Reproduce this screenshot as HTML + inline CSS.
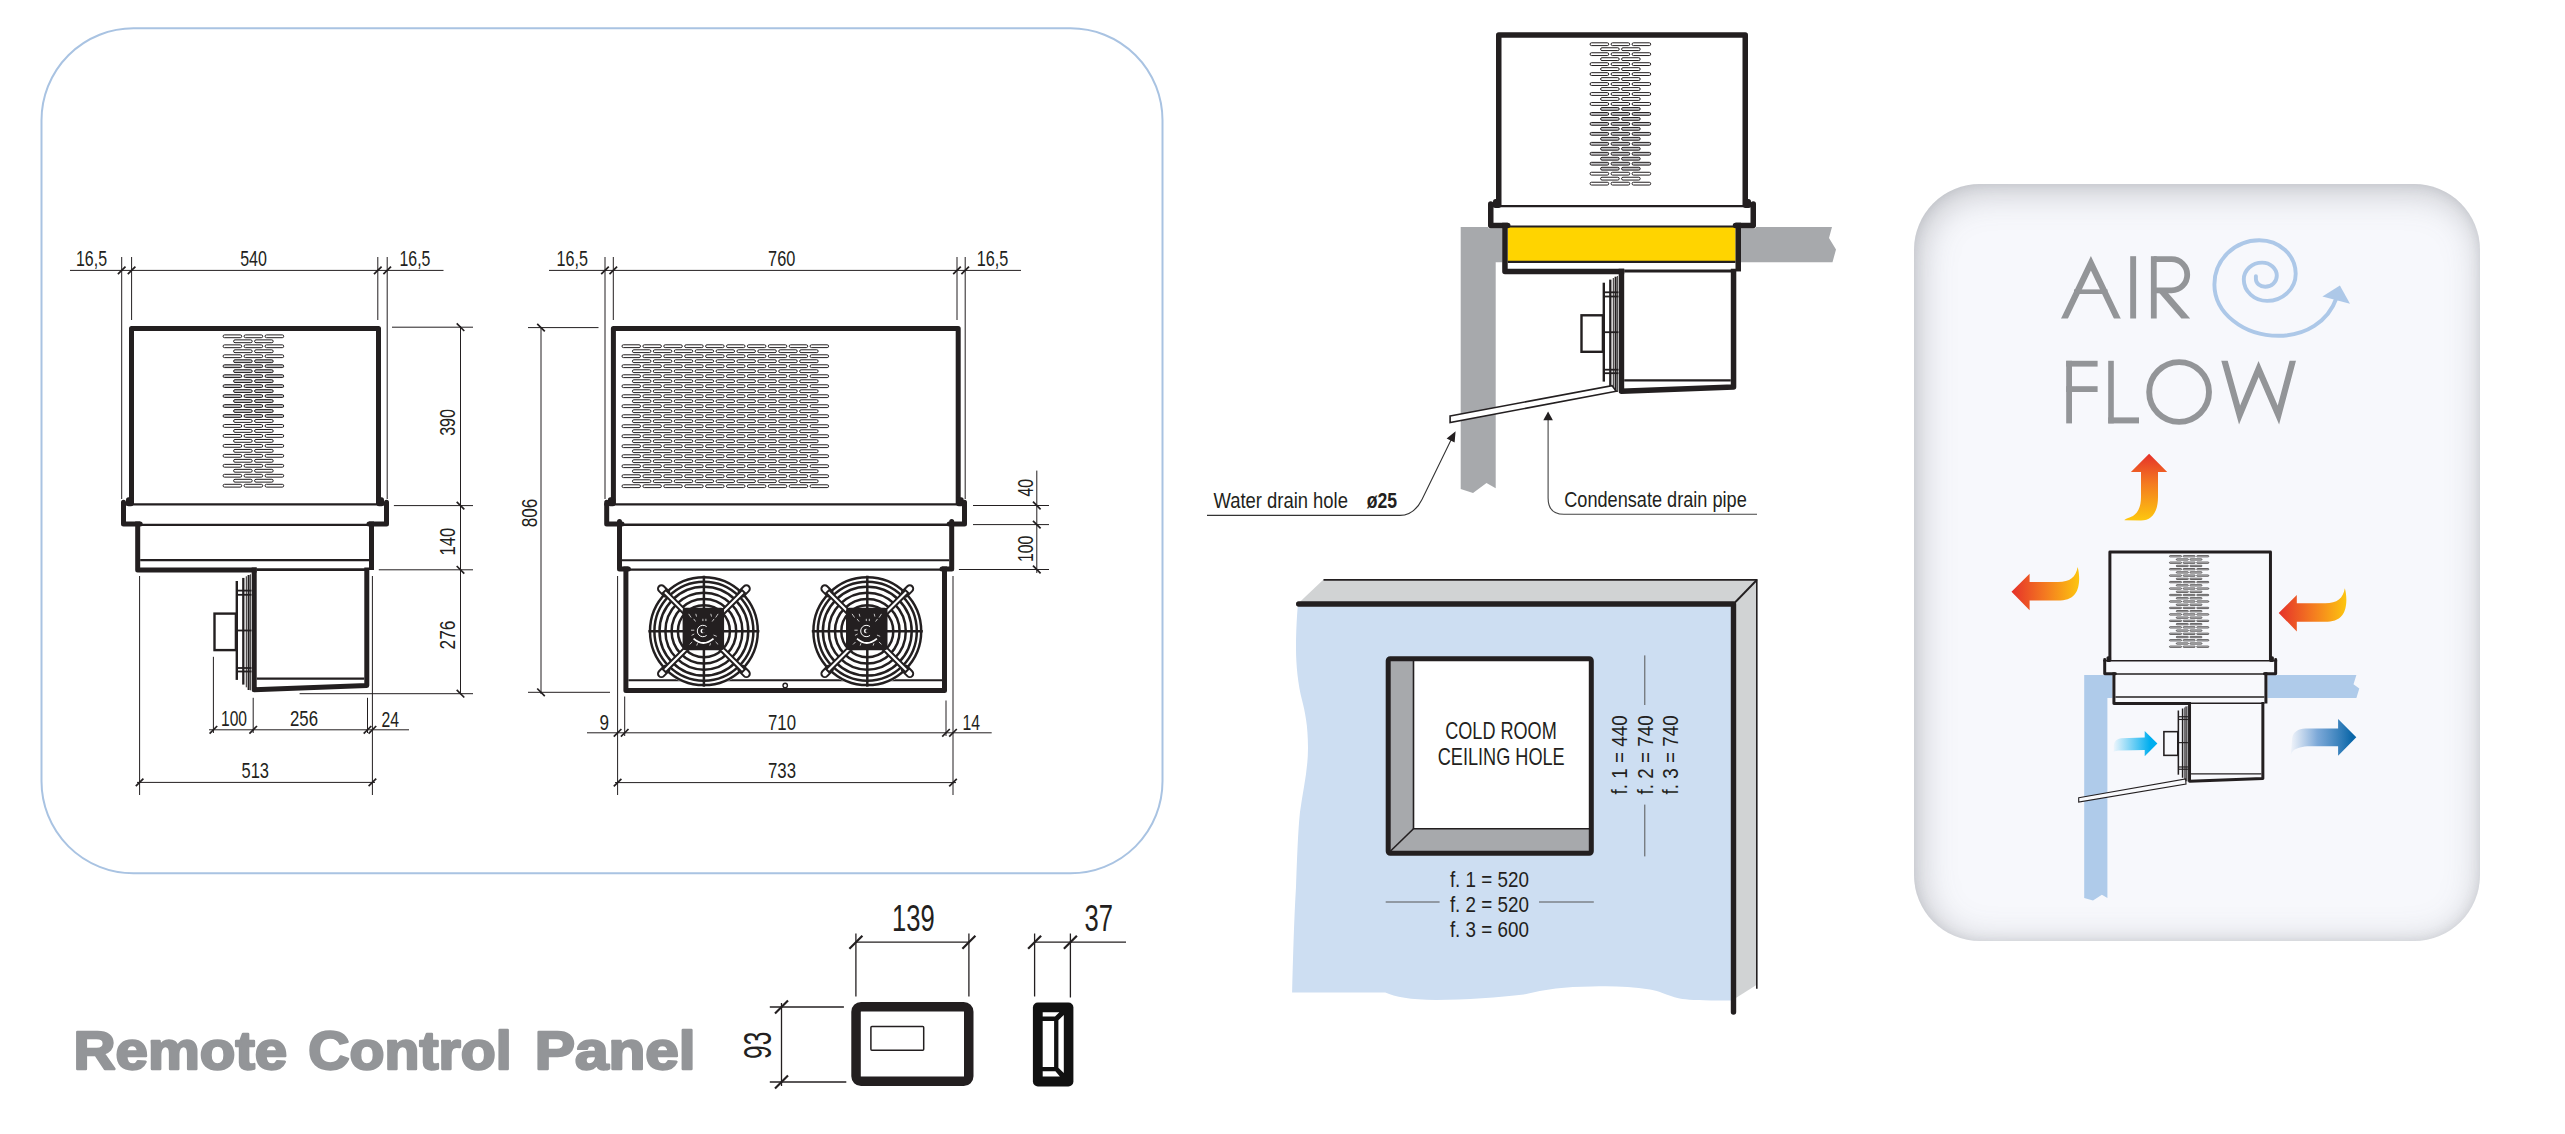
<!DOCTYPE html><html><head><meta charset="utf-8"><style>html,body{margin:0;padding:0;background:#fff;overflow:hidden;width:2565px;height:1134px}svg{display:block;position:absolute;left:0;top:0}#af{position:absolute;left:1914.2px;top:184px;width:565.6px;height:757px;border-radius:66px;background:#f7f8fc;box-shadow:inset 4px 6px 36px rgba(95,97,105,0.36),inset 0 0 12px rgba(95,97,105,0.14)}</style></head><body><div id="af"></div><svg width="2565" height="1134" viewBox="0 0 2565 1134">
<rect x="41.5" y="28.3" width="1121" height="845" rx="92" ry="92" fill="none" stroke="#a9c3e2" stroke-width="2"/>
<path d="M131.5,504.3 L131.5,328.5 L378.5,328.5 L378.5,504.3" stroke="#231f20" stroke-width="5" fill="none" stroke-linejoin="round"/>
<rect x="126" y="497.3" width="7.5" height="9" rx="2.5" fill="#231f20"/>
<rect x="376.5" y="497.3" width="7.5" height="9" rx="2.5" fill="#231f20"/>
<rect x="223.1" y="334.9" width="18.6" height="2.8" rx="1.4" fill="#fff" stroke="#231f20" stroke-width="1.0"/>
<rect x="244.1" y="334.9" width="18.6" height="2.8" rx="1.4" fill="#fff" stroke="#231f20" stroke-width="1.0"/>
<rect x="265.1" y="334.9" width="18.6" height="2.8" rx="1.4" fill="#fff" stroke="#231f20" stroke-width="1.0"/>
<rect x="233.6" y="339.88" width="18.6" height="2.8" rx="1.4" fill="#fff" stroke="#231f20" stroke-width="1.0"/>
<rect x="254.6" y="339.88" width="18.6" height="2.8" rx="1.4" fill="#fff" stroke="#231f20" stroke-width="1.0"/>
<rect x="223.1" y="344.86" width="18.6" height="2.8" rx="1.4" fill="#fff" stroke="#231f20" stroke-width="1.0"/>
<rect x="244.1" y="344.86" width="18.6" height="2.8" rx="1.4" fill="#fff" stroke="#231f20" stroke-width="1.0"/>
<rect x="265.1" y="344.86" width="18.6" height="2.8" rx="1.4" fill="#fff" stroke="#231f20" stroke-width="1.0"/>
<rect x="233.6" y="349.84" width="18.6" height="2.8" rx="1.4" fill="#fff" stroke="#231f20" stroke-width="1.0"/>
<rect x="254.6" y="349.84" width="18.6" height="2.8" rx="1.4" fill="#fff" stroke="#231f20" stroke-width="1.0"/>
<rect x="223.1" y="354.82" width="18.6" height="2.8" rx="1.4" fill="#fff" stroke="#231f20" stroke-width="1.0"/>
<rect x="244.1" y="354.82" width="18.6" height="2.8" rx="1.4" fill="#fff" stroke="#231f20" stroke-width="1.0"/>
<rect x="265.1" y="354.82" width="18.6" height="2.8" rx="1.4" fill="#fff" stroke="#231f20" stroke-width="1.0"/>
<rect x="233.6" y="359.8" width="18.6" height="2.8" rx="1.4" fill="#c2c2c4" stroke="#231f20" stroke-width="1.0"/>
<rect x="254.6" y="359.8" width="18.6" height="2.8" rx="1.4" fill="#c2c2c4" stroke="#231f20" stroke-width="1.0"/>
<rect x="223.1" y="364.78" width="18.6" height="2.8" rx="1.4" fill="#c2c2c4" stroke="#231f20" stroke-width="1.0"/>
<rect x="244.1" y="364.78" width="18.6" height="2.8" rx="1.4" fill="#c2c2c4" stroke="#231f20" stroke-width="1.0"/>
<rect x="265.1" y="364.78" width="18.6" height="2.8" rx="1.4" fill="#c2c2c4" stroke="#231f20" stroke-width="1.0"/>
<rect x="233.6" y="369.76" width="18.6" height="2.8" rx="1.4" fill="#c2c2c4" stroke="#231f20" stroke-width="1.0"/>
<rect x="254.6" y="369.76" width="18.6" height="2.8" rx="1.4" fill="#c2c2c4" stroke="#231f20" stroke-width="1.0"/>
<rect x="223.1" y="374.74" width="18.6" height="2.8" rx="1.4" fill="#c2c2c4" stroke="#231f20" stroke-width="1.0"/>
<rect x="244.1" y="374.74" width="18.6" height="2.8" rx="1.4" fill="#c2c2c4" stroke="#231f20" stroke-width="1.0"/>
<rect x="265.1" y="374.74" width="18.6" height="2.8" rx="1.4" fill="#c2c2c4" stroke="#231f20" stroke-width="1.0"/>
<rect x="233.6" y="379.72" width="18.6" height="2.8" rx="1.4" fill="#c2c2c4" stroke="#231f20" stroke-width="1.0"/>
<rect x="254.6" y="379.72" width="18.6" height="2.8" rx="1.4" fill="#c2c2c4" stroke="#231f20" stroke-width="1.0"/>
<rect x="223.1" y="384.7" width="18.6" height="2.8" rx="1.4" fill="#c2c2c4" stroke="#231f20" stroke-width="1.0"/>
<rect x="244.1" y="384.7" width="18.6" height="2.8" rx="1.4" fill="#c2c2c4" stroke="#231f20" stroke-width="1.0"/>
<rect x="265.1" y="384.7" width="18.6" height="2.8" rx="1.4" fill="#c2c2c4" stroke="#231f20" stroke-width="1.0"/>
<rect x="233.6" y="389.68" width="18.6" height="2.8" rx="1.4" fill="#c2c2c4" stroke="#231f20" stroke-width="1.0"/>
<rect x="254.6" y="389.68" width="18.6" height="2.8" rx="1.4" fill="#c2c2c4" stroke="#231f20" stroke-width="1.0"/>
<rect x="223.1" y="394.66" width="18.6" height="2.8" rx="1.4" fill="#c2c2c4" stroke="#231f20" stroke-width="1.0"/>
<rect x="244.1" y="394.66" width="18.6" height="2.8" rx="1.4" fill="#c2c2c4" stroke="#231f20" stroke-width="1.0"/>
<rect x="265.1" y="394.66" width="18.6" height="2.8" rx="1.4" fill="#c2c2c4" stroke="#231f20" stroke-width="1.0"/>
<rect x="233.6" y="399.64" width="18.6" height="2.8" rx="1.4" fill="#c2c2c4" stroke="#231f20" stroke-width="1.0"/>
<rect x="254.6" y="399.64" width="18.6" height="2.8" rx="1.4" fill="#c2c2c4" stroke="#231f20" stroke-width="1.0"/>
<rect x="223.1" y="404.62" width="18.6" height="2.8" rx="1.4" fill="#c2c2c4" stroke="#231f20" stroke-width="1.0"/>
<rect x="244.1" y="404.62" width="18.6" height="2.8" rx="1.4" fill="#c2c2c4" stroke="#231f20" stroke-width="1.0"/>
<rect x="265.1" y="404.62" width="18.6" height="2.8" rx="1.4" fill="#c2c2c4" stroke="#231f20" stroke-width="1.0"/>
<rect x="233.6" y="409.6" width="18.6" height="2.8" rx="1.4" fill="#c2c2c4" stroke="#231f20" stroke-width="1.0"/>
<rect x="254.6" y="409.6" width="18.6" height="2.8" rx="1.4" fill="#c2c2c4" stroke="#231f20" stroke-width="1.0"/>
<rect x="223.1" y="414.58" width="18.6" height="2.8" rx="1.4" fill="#c2c2c4" stroke="#231f20" stroke-width="1.0"/>
<rect x="244.1" y="414.58" width="18.6" height="2.8" rx="1.4" fill="#c2c2c4" stroke="#231f20" stroke-width="1.0"/>
<rect x="265.1" y="414.58" width="18.6" height="2.8" rx="1.4" fill="#c2c2c4" stroke="#231f20" stroke-width="1.0"/>
<rect x="233.6" y="419.56" width="18.6" height="2.8" rx="1.4" fill="#fff" stroke="#231f20" stroke-width="1.0"/>
<rect x="254.6" y="419.56" width="18.6" height="2.8" rx="1.4" fill="#fff" stroke="#231f20" stroke-width="1.0"/>
<rect x="223.1" y="424.54" width="18.6" height="2.8" rx="1.4" fill="#fff" stroke="#231f20" stroke-width="1.0"/>
<rect x="244.1" y="424.54" width="18.6" height="2.8" rx="1.4" fill="#fff" stroke="#231f20" stroke-width="1.0"/>
<rect x="265.1" y="424.54" width="18.6" height="2.8" rx="1.4" fill="#fff" stroke="#231f20" stroke-width="1.0"/>
<rect x="233.6" y="429.52" width="18.6" height="2.8" rx="1.4" fill="#fff" stroke="#231f20" stroke-width="1.0"/>
<rect x="254.6" y="429.52" width="18.6" height="2.8" rx="1.4" fill="#fff" stroke="#231f20" stroke-width="1.0"/>
<rect x="223.1" y="434.5" width="18.6" height="2.8" rx="1.4" fill="#fff" stroke="#231f20" stroke-width="1.0"/>
<rect x="244.1" y="434.5" width="18.6" height="2.8" rx="1.4" fill="#fff" stroke="#231f20" stroke-width="1.0"/>
<rect x="265.1" y="434.5" width="18.6" height="2.8" rx="1.4" fill="#fff" stroke="#231f20" stroke-width="1.0"/>
<rect x="233.6" y="439.48" width="18.6" height="2.8" rx="1.4" fill="#fff" stroke="#231f20" stroke-width="1.0"/>
<rect x="254.6" y="439.48" width="18.6" height="2.8" rx="1.4" fill="#fff" stroke="#231f20" stroke-width="1.0"/>
<rect x="223.1" y="444.46" width="18.6" height="2.8" rx="1.4" fill="#fff" stroke="#231f20" stroke-width="1.0"/>
<rect x="244.1" y="444.46" width="18.6" height="2.8" rx="1.4" fill="#fff" stroke="#231f20" stroke-width="1.0"/>
<rect x="265.1" y="444.46" width="18.6" height="2.8" rx="1.4" fill="#fff" stroke="#231f20" stroke-width="1.0"/>
<rect x="233.6" y="449.44" width="18.6" height="2.8" rx="1.4" fill="#fff" stroke="#231f20" stroke-width="1.0"/>
<rect x="254.6" y="449.44" width="18.6" height="2.8" rx="1.4" fill="#fff" stroke="#231f20" stroke-width="1.0"/>
<rect x="223.1" y="454.42" width="18.6" height="2.8" rx="1.4" fill="#fff" stroke="#231f20" stroke-width="1.0"/>
<rect x="244.1" y="454.42" width="18.6" height="2.8" rx="1.4" fill="#fff" stroke="#231f20" stroke-width="1.0"/>
<rect x="265.1" y="454.42" width="18.6" height="2.8" rx="1.4" fill="#fff" stroke="#231f20" stroke-width="1.0"/>
<rect x="233.6" y="459.4" width="18.6" height="2.8" rx="1.4" fill="#fff" stroke="#231f20" stroke-width="1.0"/>
<rect x="254.6" y="459.4" width="18.6" height="2.8" rx="1.4" fill="#fff" stroke="#231f20" stroke-width="1.0"/>
<rect x="223.1" y="464.38" width="18.6" height="2.8" rx="1.4" fill="#fff" stroke="#231f20" stroke-width="1.0"/>
<rect x="244.1" y="464.38" width="18.6" height="2.8" rx="1.4" fill="#fff" stroke="#231f20" stroke-width="1.0"/>
<rect x="265.1" y="464.38" width="18.6" height="2.8" rx="1.4" fill="#fff" stroke="#231f20" stroke-width="1.0"/>
<rect x="233.6" y="469.36" width="18.6" height="2.8" rx="1.4" fill="#fff" stroke="#231f20" stroke-width="1.0"/>
<rect x="254.6" y="469.36" width="18.6" height="2.8" rx="1.4" fill="#fff" stroke="#231f20" stroke-width="1.0"/>
<rect x="223.1" y="474.34" width="18.6" height="2.8" rx="1.4" fill="#fff" stroke="#231f20" stroke-width="1.0"/>
<rect x="244.1" y="474.34" width="18.6" height="2.8" rx="1.4" fill="#fff" stroke="#231f20" stroke-width="1.0"/>
<rect x="265.1" y="474.34" width="18.6" height="2.8" rx="1.4" fill="#fff" stroke="#231f20" stroke-width="1.0"/>
<rect x="233.6" y="479.32" width="18.6" height="2.8" rx="1.4" fill="#fff" stroke="#231f20" stroke-width="1.0"/>
<rect x="254.6" y="479.32" width="18.6" height="2.8" rx="1.4" fill="#fff" stroke="#231f20" stroke-width="1.0"/>
<rect x="223.1" y="484.3" width="18.6" height="2.8" rx="1.4" fill="#fff" stroke="#231f20" stroke-width="1.0"/>
<rect x="244.1" y="484.3" width="18.6" height="2.8" rx="1.4" fill="#fff" stroke="#231f20" stroke-width="1.0"/>
<rect x="265.1" y="484.3" width="18.6" height="2.8" rx="1.4" fill="#fff" stroke="#231f20" stroke-width="1.0"/>
<line x1="121" y1="504.4" x2="389" y2="504.4" stroke="#231f20" stroke-width="2.2" />
<path d="M123.5,502.3 L123.5,524 L140.2,524" stroke="#231f20" stroke-width="5" fill="none" stroke-linejoin="round" stroke-linecap="round"/>
<path d="M386.5,502.3 L386.5,524 L369,524" stroke="#231f20" stroke-width="5" fill="none" stroke-linejoin="round" stroke-linecap="round"/>
<line x1="135.2" y1="524.8" x2="374" y2="524.8" stroke="#231f20" stroke-width="2.2" />
<path d="M137.7,521.5 L137.7,570 L256.7,570" stroke="#231f20" stroke-width="5" fill="none" stroke-linejoin="round"/>
<line x1="256.7" y1="569.6" x2="369" y2="569.6" stroke="#231f20" stroke-width="2.75" />
<path d="M371.5,521.5 L371.5,570" stroke="#231f20" stroke-width="5" fill="none" stroke-linejoin="round"/>
<line x1="140.2" y1="560.2" x2="369" y2="560.2" stroke="#231f20" stroke-width="2.2" />
<path d="M254.2,567.5 L254.2,689.8 L366.8,685.5 L366.8,567.5" stroke="#231f20" stroke-width="5" fill="none" stroke-linejoin="round"/>
<line x1="256.7" y1="678.6" x2="364.3" y2="678.6" stroke="#231f20" stroke-width="2.2" />
<line x1="236.8" y1="581" x2="236.8" y2="679.9" stroke="#231f20" stroke-width="2.4" />
<line x1="243.3" y1="577.9" x2="243.3" y2="684.6" stroke="#231f20" stroke-width="2.3" />
<line x1="246.3" y1="576.3" x2="246.3" y2="687.3" stroke="#231f20" stroke-width="1.0" />
<line x1="248.6" y1="575" x2="248.6" y2="690" stroke="#231f20" stroke-width="2.0" />
<line x1="250.4" y1="574.3" x2="250.4" y2="690.3" stroke="#231f20" stroke-width="0.9" />
<line x1="236.8" y1="590.6" x2="251.5" y2="590.6" stroke="#231f20" stroke-width="1.8" />
<line x1="236.8" y1="594.8" x2="251.5" y2="594.8" stroke="#231f20" stroke-width="1.8" />
<line x1="236.8" y1="630.5" x2="251.5" y2="630.5" stroke="#231f20" stroke-width="1.8" />
<line x1="236.8" y1="668" x2="251.5" y2="668" stroke="#231f20" stroke-width="1.8" />
<line x1="236.8" y1="671.5" x2="251.5" y2="671.5" stroke="#231f20" stroke-width="1.8" />
<rect x="214.5" y="613.6" width="21.4" height="36.5" fill="#fff" stroke="#231f20" stroke-width="2.4"/>
<line x1="70" y1="270.4" x2="443.5" y2="270.4" stroke="#231f20" stroke-width="1" />
<line x1="117.9" y1="274.2" x2="125.5" y2="266.6" stroke="#231f20" stroke-width="1.7" />
<line x1="127.8" y1="274.2" x2="135.4" y2="266.6" stroke="#231f20" stroke-width="1.7" />
<line x1="374" y1="274.2" x2="381.6" y2="266.6" stroke="#231f20" stroke-width="1.7" />
<line x1="383.4" y1="274.2" x2="391" y2="266.6" stroke="#231f20" stroke-width="1.7" />
<line x1="121.7" y1="257" x2="121.7" y2="499" stroke="#231f20" stroke-width="1" />
<line x1="387.2" y1="257" x2="387.2" y2="499" stroke="#231f20" stroke-width="1" />
<line x1="131.6" y1="257" x2="131.6" y2="320" stroke="#231f20" stroke-width="1" />
<line x1="377.8" y1="257" x2="377.8" y2="320" stroke="#231f20" stroke-width="1" />
<text x="91.5" y="265.6" font-family='"Liberation Sans", sans-serif' font-size="22.5" font-weight="normal" fill="#231f20" text-anchor="middle" textLength="31" lengthAdjust="spacingAndGlyphs" >16,5</text>
<text x="253.55" y="265.6" font-family='"Liberation Sans", sans-serif' font-size="22.5" font-weight="normal" fill="#231f20" text-anchor="middle" textLength="26.7" lengthAdjust="spacingAndGlyphs" >540</text>
<text x="414.95" y="265.6" font-family='"Liberation Sans", sans-serif' font-size="22.5" font-weight="normal" fill="#231f20" text-anchor="middle" textLength="30.9" lengthAdjust="spacingAndGlyphs" >16,5</text>
<line x1="460.5" y1="326" x2="460.5" y2="694" stroke="#231f20" stroke-width="1" />
<line x1="456.7" y1="323.4" x2="464.3" y2="331" stroke="#231f20" stroke-width="1.7" />
<line x1="456.7" y1="501.8" x2="464.3" y2="509.4" stroke="#231f20" stroke-width="1.7" />
<line x1="456.7" y1="566" x2="464.3" y2="573.6" stroke="#231f20" stroke-width="1.7" />
<line x1="456.7" y1="689.9" x2="464.3" y2="697.5" stroke="#231f20" stroke-width="1.7" />
<line x1="392" y1="327.2" x2="473" y2="327.2" stroke="#231f20" stroke-width="1" />
<line x1="393.9" y1="505.6" x2="473" y2="505.6" stroke="#231f20" stroke-width="1" />
<line x1="378.8" y1="569.8" x2="473" y2="569.8" stroke="#231f20" stroke-width="1" />
<line x1="299.6" y1="693.7" x2="473" y2="693.7" stroke="#231f20" stroke-width="1" />
<text transform="translate(454.84,422.4) rotate(-90)" x="0" y="0" font-family='"Liberation Sans", sans-serif' font-size="22.5" font-weight="normal" fill="#231f20" text-anchor="middle" textLength="26.9" lengthAdjust="spacingAndGlyphs" >390</text>
<text transform="translate(454.84,541.7) rotate(-90)" x="0" y="0" font-family='"Liberation Sans", sans-serif' font-size="22.5" font-weight="normal" fill="#231f20" text-anchor="middle" textLength="27.8" lengthAdjust="spacingAndGlyphs" >140</text>
<text transform="translate(454.84,635) rotate(-90)" x="0" y="0" font-family='"Liberation Sans", sans-serif' font-size="22.5" font-weight="normal" fill="#231f20" text-anchor="middle" textLength="29" lengthAdjust="spacingAndGlyphs" >276</text>
<line x1="209" y1="729.8" x2="409" y2="729.8" stroke="#231f20" stroke-width="1" />
<line x1="209.6" y1="733.6" x2="217.2" y2="726" stroke="#231f20" stroke-width="1.7" />
<line x1="249.4" y1="733.6" x2="257" y2="726" stroke="#231f20" stroke-width="1.7" />
<line x1="363.7" y1="733.6" x2="371.3" y2="726" stroke="#231f20" stroke-width="1.7" />
<line x1="368.6" y1="733.6" x2="376.2" y2="726" stroke="#231f20" stroke-width="1.7" />
<line x1="213.4" y1="656.8" x2="213.4" y2="733" stroke="#231f20" stroke-width="1" />
<line x1="253.2" y1="697.8" x2="253.2" y2="733" stroke="#231f20" stroke-width="1" />
<line x1="367.5" y1="697.8" x2="367.5" y2="733" stroke="#231f20" stroke-width="1" />
<line x1="372.4" y1="576" x2="372.4" y2="795" stroke="#231f20" stroke-width="1" />
<line x1="139.6" y1="576" x2="139.6" y2="795" stroke="#231f20" stroke-width="1" />
<line x1="137" y1="782.4" x2="375" y2="782.4" stroke="#231f20" stroke-width="1" />
<line x1="135.8" y1="786.2" x2="143.4" y2="778.6" stroke="#231f20" stroke-width="1.7" />
<line x1="368.6" y1="786.2" x2="376.2" y2="778.6" stroke="#231f20" stroke-width="1.7" />
<text x="234" y="725.6" font-family='"Liberation Sans", sans-serif' font-size="22.5" font-weight="normal" fill="#231f20" text-anchor="middle" textLength="26" lengthAdjust="spacingAndGlyphs" >100</text>
<text x="304" y="725.6" font-family='"Liberation Sans", sans-serif' font-size="22.5" font-weight="normal" fill="#231f20" text-anchor="middle" textLength="28" lengthAdjust="spacingAndGlyphs" >256</text>
<text x="390.25" y="727" font-family='"Liberation Sans", sans-serif' font-size="22.5" font-weight="normal" fill="#231f20" text-anchor="middle" textLength="17.5" lengthAdjust="spacingAndGlyphs" >24</text>
<text x="255.25" y="777.6" font-family='"Liberation Sans", sans-serif' font-size="22.5" font-weight="normal" fill="#231f20" text-anchor="middle" textLength="27.5" lengthAdjust="spacingAndGlyphs" >513</text>
<path d="M613.4,504.3 L613.4,328.5 L958.2,328.5 L958.2,504.3" stroke="#231f20" stroke-width="5" fill="none" stroke-linejoin="round"/>
<rect x="607.9" y="497.3" width="7.5" height="9" rx="2.5" fill="#231f20"/>
<rect x="956.2" y="497.3" width="7.5" height="9" rx="2.5" fill="#231f20"/>
<rect x="622" y="344.8" width="18.5" height="2.8" rx="1.4" fill="#fff" stroke="#231f20" stroke-width="1.0"/>
<rect x="642.9" y="344.8" width="18.5" height="2.8" rx="1.4" fill="#fff" stroke="#231f20" stroke-width="1.0"/>
<rect x="663.8" y="344.8" width="18.5" height="2.8" rx="1.4" fill="#fff" stroke="#231f20" stroke-width="1.0"/>
<rect x="684.7" y="344.8" width="18.5" height="2.8" rx="1.4" fill="#fff" stroke="#231f20" stroke-width="1.0"/>
<rect x="705.6" y="344.8" width="18.5" height="2.8" rx="1.4" fill="#fff" stroke="#231f20" stroke-width="1.0"/>
<rect x="726.5" y="344.8" width="18.5" height="2.8" rx="1.4" fill="#fff" stroke="#231f20" stroke-width="1.0"/>
<rect x="747.4" y="344.8" width="18.5" height="2.8" rx="1.4" fill="#fff" stroke="#231f20" stroke-width="1.0"/>
<rect x="768.3" y="344.8" width="18.5" height="2.8" rx="1.4" fill="#fff" stroke="#231f20" stroke-width="1.0"/>
<rect x="789.2" y="344.8" width="18.5" height="2.8" rx="1.4" fill="#fff" stroke="#231f20" stroke-width="1.0"/>
<rect x="810.1" y="344.8" width="18.5" height="2.8" rx="1.4" fill="#fff" stroke="#231f20" stroke-width="1.0"/>
<rect x="632.45" y="349.8" width="18.5" height="2.8" rx="1.4" fill="#fff" stroke="#231f20" stroke-width="1.0"/>
<rect x="653.35" y="349.8" width="18.5" height="2.8" rx="1.4" fill="#fff" stroke="#231f20" stroke-width="1.0"/>
<rect x="674.25" y="349.8" width="18.5" height="2.8" rx="1.4" fill="#fff" stroke="#231f20" stroke-width="1.0"/>
<rect x="695.15" y="349.8" width="18.5" height="2.8" rx="1.4" fill="#fff" stroke="#231f20" stroke-width="1.0"/>
<rect x="716.05" y="349.8" width="18.5" height="2.8" rx="1.4" fill="#fff" stroke="#231f20" stroke-width="1.0"/>
<rect x="736.95" y="349.8" width="18.5" height="2.8" rx="1.4" fill="#fff" stroke="#231f20" stroke-width="1.0"/>
<rect x="757.85" y="349.8" width="18.5" height="2.8" rx="1.4" fill="#fff" stroke="#231f20" stroke-width="1.0"/>
<rect x="778.75" y="349.8" width="18.5" height="2.8" rx="1.4" fill="#fff" stroke="#231f20" stroke-width="1.0"/>
<rect x="799.65" y="349.8" width="18.5" height="2.8" rx="1.4" fill="#fff" stroke="#231f20" stroke-width="1.0"/>
<rect x="622" y="354.8" width="18.5" height="2.8" rx="1.4" fill="#fff" stroke="#231f20" stroke-width="1.0"/>
<rect x="642.9" y="354.8" width="18.5" height="2.8" rx="1.4" fill="#fff" stroke="#231f20" stroke-width="1.0"/>
<rect x="663.8" y="354.8" width="18.5" height="2.8" rx="1.4" fill="#fff" stroke="#231f20" stroke-width="1.0"/>
<rect x="684.7" y="354.8" width="18.5" height="2.8" rx="1.4" fill="#fff" stroke="#231f20" stroke-width="1.0"/>
<rect x="705.6" y="354.8" width="18.5" height="2.8" rx="1.4" fill="#fff" stroke="#231f20" stroke-width="1.0"/>
<rect x="726.5" y="354.8" width="18.5" height="2.8" rx="1.4" fill="#fff" stroke="#231f20" stroke-width="1.0"/>
<rect x="747.4" y="354.8" width="18.5" height="2.8" rx="1.4" fill="#fff" stroke="#231f20" stroke-width="1.0"/>
<rect x="768.3" y="354.8" width="18.5" height="2.8" rx="1.4" fill="#fff" stroke="#231f20" stroke-width="1.0"/>
<rect x="789.2" y="354.8" width="18.5" height="2.8" rx="1.4" fill="#fff" stroke="#231f20" stroke-width="1.0"/>
<rect x="810.1" y="354.8" width="18.5" height="2.8" rx="1.4" fill="#fff" stroke="#231f20" stroke-width="1.0"/>
<rect x="632.45" y="359.8" width="18.5" height="2.8" rx="1.4" fill="#fff" stroke="#231f20" stroke-width="1.0"/>
<rect x="653.35" y="359.8" width="18.5" height="2.8" rx="1.4" fill="#fff" stroke="#231f20" stroke-width="1.0"/>
<rect x="674.25" y="359.8" width="18.5" height="2.8" rx="1.4" fill="#fff" stroke="#231f20" stroke-width="1.0"/>
<rect x="695.15" y="359.8" width="18.5" height="2.8" rx="1.4" fill="#fff" stroke="#231f20" stroke-width="1.0"/>
<rect x="716.05" y="359.8" width="18.5" height="2.8" rx="1.4" fill="#fff" stroke="#231f20" stroke-width="1.0"/>
<rect x="736.95" y="359.8" width="18.5" height="2.8" rx="1.4" fill="#fff" stroke="#231f20" stroke-width="1.0"/>
<rect x="757.85" y="359.8" width="18.5" height="2.8" rx="1.4" fill="#fff" stroke="#231f20" stroke-width="1.0"/>
<rect x="778.75" y="359.8" width="18.5" height="2.8" rx="1.4" fill="#fff" stroke="#231f20" stroke-width="1.0"/>
<rect x="799.65" y="359.8" width="18.5" height="2.8" rx="1.4" fill="#fff" stroke="#231f20" stroke-width="1.0"/>
<rect x="622" y="364.8" width="18.5" height="2.8" rx="1.4" fill="#fff" stroke="#231f20" stroke-width="1.0"/>
<rect x="642.9" y="364.8" width="18.5" height="2.8" rx="1.4" fill="#fff" stroke="#231f20" stroke-width="1.0"/>
<rect x="663.8" y="364.8" width="18.5" height="2.8" rx="1.4" fill="#fff" stroke="#231f20" stroke-width="1.0"/>
<rect x="684.7" y="364.8" width="18.5" height="2.8" rx="1.4" fill="#fff" stroke="#231f20" stroke-width="1.0"/>
<rect x="705.6" y="364.8" width="18.5" height="2.8" rx="1.4" fill="#fff" stroke="#231f20" stroke-width="1.0"/>
<rect x="726.5" y="364.8" width="18.5" height="2.8" rx="1.4" fill="#fff" stroke="#231f20" stroke-width="1.0"/>
<rect x="747.4" y="364.8" width="18.5" height="2.8" rx="1.4" fill="#fff" stroke="#231f20" stroke-width="1.0"/>
<rect x="768.3" y="364.8" width="18.5" height="2.8" rx="1.4" fill="#fff" stroke="#231f20" stroke-width="1.0"/>
<rect x="789.2" y="364.8" width="18.5" height="2.8" rx="1.4" fill="#fff" stroke="#231f20" stroke-width="1.0"/>
<rect x="810.1" y="364.8" width="18.5" height="2.8" rx="1.4" fill="#fff" stroke="#231f20" stroke-width="1.0"/>
<rect x="632.45" y="369.8" width="18.5" height="2.8" rx="1.4" fill="#fff" stroke="#231f20" stroke-width="1.0"/>
<rect x="653.35" y="369.8" width="18.5" height="2.8" rx="1.4" fill="#fff" stroke="#231f20" stroke-width="1.0"/>
<rect x="674.25" y="369.8" width="18.5" height="2.8" rx="1.4" fill="#fff" stroke="#231f20" stroke-width="1.0"/>
<rect x="695.15" y="369.8" width="18.5" height="2.8" rx="1.4" fill="#fff" stroke="#231f20" stroke-width="1.0"/>
<rect x="716.05" y="369.8" width="18.5" height="2.8" rx="1.4" fill="#fff" stroke="#231f20" stroke-width="1.0"/>
<rect x="736.95" y="369.8" width="18.5" height="2.8" rx="1.4" fill="#fff" stroke="#231f20" stroke-width="1.0"/>
<rect x="757.85" y="369.8" width="18.5" height="2.8" rx="1.4" fill="#fff" stroke="#231f20" stroke-width="1.0"/>
<rect x="778.75" y="369.8" width="18.5" height="2.8" rx="1.4" fill="#fff" stroke="#231f20" stroke-width="1.0"/>
<rect x="799.65" y="369.8" width="18.5" height="2.8" rx="1.4" fill="#fff" stroke="#231f20" stroke-width="1.0"/>
<rect x="622" y="374.8" width="18.5" height="2.8" rx="1.4" fill="#fff" stroke="#231f20" stroke-width="1.0"/>
<rect x="642.9" y="374.8" width="18.5" height="2.8" rx="1.4" fill="#fff" stroke="#231f20" stroke-width="1.0"/>
<rect x="663.8" y="374.8" width="18.5" height="2.8" rx="1.4" fill="#fff" stroke="#231f20" stroke-width="1.0"/>
<rect x="684.7" y="374.8" width="18.5" height="2.8" rx="1.4" fill="#fff" stroke="#231f20" stroke-width="1.0"/>
<rect x="705.6" y="374.8" width="18.5" height="2.8" rx="1.4" fill="#fff" stroke="#231f20" stroke-width="1.0"/>
<rect x="726.5" y="374.8" width="18.5" height="2.8" rx="1.4" fill="#fff" stroke="#231f20" stroke-width="1.0"/>
<rect x="747.4" y="374.8" width="18.5" height="2.8" rx="1.4" fill="#fff" stroke="#231f20" stroke-width="1.0"/>
<rect x="768.3" y="374.8" width="18.5" height="2.8" rx="1.4" fill="#fff" stroke="#231f20" stroke-width="1.0"/>
<rect x="789.2" y="374.8" width="18.5" height="2.8" rx="1.4" fill="#fff" stroke="#231f20" stroke-width="1.0"/>
<rect x="810.1" y="374.8" width="18.5" height="2.8" rx="1.4" fill="#fff" stroke="#231f20" stroke-width="1.0"/>
<rect x="632.45" y="379.8" width="18.5" height="2.8" rx="1.4" fill="#fff" stroke="#231f20" stroke-width="1.0"/>
<rect x="653.35" y="379.8" width="18.5" height="2.8" rx="1.4" fill="#fff" stroke="#231f20" stroke-width="1.0"/>
<rect x="674.25" y="379.8" width="18.5" height="2.8" rx="1.4" fill="#fff" stroke="#231f20" stroke-width="1.0"/>
<rect x="695.15" y="379.8" width="18.5" height="2.8" rx="1.4" fill="#fff" stroke="#231f20" stroke-width="1.0"/>
<rect x="716.05" y="379.8" width="18.5" height="2.8" rx="1.4" fill="#fff" stroke="#231f20" stroke-width="1.0"/>
<rect x="736.95" y="379.8" width="18.5" height="2.8" rx="1.4" fill="#fff" stroke="#231f20" stroke-width="1.0"/>
<rect x="757.85" y="379.8" width="18.5" height="2.8" rx="1.4" fill="#fff" stroke="#231f20" stroke-width="1.0"/>
<rect x="778.75" y="379.8" width="18.5" height="2.8" rx="1.4" fill="#fff" stroke="#231f20" stroke-width="1.0"/>
<rect x="799.65" y="379.8" width="18.5" height="2.8" rx="1.4" fill="#fff" stroke="#231f20" stroke-width="1.0"/>
<rect x="622" y="384.8" width="18.5" height="2.8" rx="1.4" fill="#fff" stroke="#231f20" stroke-width="1.0"/>
<rect x="642.9" y="384.8" width="18.5" height="2.8" rx="1.4" fill="#fff" stroke="#231f20" stroke-width="1.0"/>
<rect x="663.8" y="384.8" width="18.5" height="2.8" rx="1.4" fill="#fff" stroke="#231f20" stroke-width="1.0"/>
<rect x="684.7" y="384.8" width="18.5" height="2.8" rx="1.4" fill="#fff" stroke="#231f20" stroke-width="1.0"/>
<rect x="705.6" y="384.8" width="18.5" height="2.8" rx="1.4" fill="#fff" stroke="#231f20" stroke-width="1.0"/>
<rect x="726.5" y="384.8" width="18.5" height="2.8" rx="1.4" fill="#fff" stroke="#231f20" stroke-width="1.0"/>
<rect x="747.4" y="384.8" width="18.5" height="2.8" rx="1.4" fill="#fff" stroke="#231f20" stroke-width="1.0"/>
<rect x="768.3" y="384.8" width="18.5" height="2.8" rx="1.4" fill="#fff" stroke="#231f20" stroke-width="1.0"/>
<rect x="789.2" y="384.8" width="18.5" height="2.8" rx="1.4" fill="#fff" stroke="#231f20" stroke-width="1.0"/>
<rect x="810.1" y="384.8" width="18.5" height="2.8" rx="1.4" fill="#fff" stroke="#231f20" stroke-width="1.0"/>
<rect x="632.45" y="389.8" width="18.5" height="2.8" rx="1.4" fill="#fff" stroke="#231f20" stroke-width="1.0"/>
<rect x="653.35" y="389.8" width="18.5" height="2.8" rx="1.4" fill="#fff" stroke="#231f20" stroke-width="1.0"/>
<rect x="674.25" y="389.8" width="18.5" height="2.8" rx="1.4" fill="#fff" stroke="#231f20" stroke-width="1.0"/>
<rect x="695.15" y="389.8" width="18.5" height="2.8" rx="1.4" fill="#fff" stroke="#231f20" stroke-width="1.0"/>
<rect x="716.05" y="389.8" width="18.5" height="2.8" rx="1.4" fill="#fff" stroke="#231f20" stroke-width="1.0"/>
<rect x="736.95" y="389.8" width="18.5" height="2.8" rx="1.4" fill="#fff" stroke="#231f20" stroke-width="1.0"/>
<rect x="757.85" y="389.8" width="18.5" height="2.8" rx="1.4" fill="#fff" stroke="#231f20" stroke-width="1.0"/>
<rect x="778.75" y="389.8" width="18.5" height="2.8" rx="1.4" fill="#fff" stroke="#231f20" stroke-width="1.0"/>
<rect x="799.65" y="389.8" width="18.5" height="2.8" rx="1.4" fill="#fff" stroke="#231f20" stroke-width="1.0"/>
<rect x="622" y="394.8" width="18.5" height="2.8" rx="1.4" fill="#fff" stroke="#231f20" stroke-width="1.0"/>
<rect x="642.9" y="394.8" width="18.5" height="2.8" rx="1.4" fill="#fff" stroke="#231f20" stroke-width="1.0"/>
<rect x="663.8" y="394.8" width="18.5" height="2.8" rx="1.4" fill="#fff" stroke="#231f20" stroke-width="1.0"/>
<rect x="684.7" y="394.8" width="18.5" height="2.8" rx="1.4" fill="#fff" stroke="#231f20" stroke-width="1.0"/>
<rect x="705.6" y="394.8" width="18.5" height="2.8" rx="1.4" fill="#fff" stroke="#231f20" stroke-width="1.0"/>
<rect x="726.5" y="394.8" width="18.5" height="2.8" rx="1.4" fill="#fff" stroke="#231f20" stroke-width="1.0"/>
<rect x="747.4" y="394.8" width="18.5" height="2.8" rx="1.4" fill="#fff" stroke="#231f20" stroke-width="1.0"/>
<rect x="768.3" y="394.8" width="18.5" height="2.8" rx="1.4" fill="#fff" stroke="#231f20" stroke-width="1.0"/>
<rect x="789.2" y="394.8" width="18.5" height="2.8" rx="1.4" fill="#fff" stroke="#231f20" stroke-width="1.0"/>
<rect x="810.1" y="394.8" width="18.5" height="2.8" rx="1.4" fill="#fff" stroke="#231f20" stroke-width="1.0"/>
<rect x="632.45" y="399.8" width="18.5" height="2.8" rx="1.4" fill="#fff" stroke="#231f20" stroke-width="1.0"/>
<rect x="653.35" y="399.8" width="18.5" height="2.8" rx="1.4" fill="#fff" stroke="#231f20" stroke-width="1.0"/>
<rect x="674.25" y="399.8" width="18.5" height="2.8" rx="1.4" fill="#fff" stroke="#231f20" stroke-width="1.0"/>
<rect x="695.15" y="399.8" width="18.5" height="2.8" rx="1.4" fill="#fff" stroke="#231f20" stroke-width="1.0"/>
<rect x="716.05" y="399.8" width="18.5" height="2.8" rx="1.4" fill="#fff" stroke="#231f20" stroke-width="1.0"/>
<rect x="736.95" y="399.8" width="18.5" height="2.8" rx="1.4" fill="#fff" stroke="#231f20" stroke-width="1.0"/>
<rect x="757.85" y="399.8" width="18.5" height="2.8" rx="1.4" fill="#fff" stroke="#231f20" stroke-width="1.0"/>
<rect x="778.75" y="399.8" width="18.5" height="2.8" rx="1.4" fill="#fff" stroke="#231f20" stroke-width="1.0"/>
<rect x="799.65" y="399.8" width="18.5" height="2.8" rx="1.4" fill="#fff" stroke="#231f20" stroke-width="1.0"/>
<rect x="622" y="404.8" width="18.5" height="2.8" rx="1.4" fill="#fff" stroke="#231f20" stroke-width="1.0"/>
<rect x="642.9" y="404.8" width="18.5" height="2.8" rx="1.4" fill="#fff" stroke="#231f20" stroke-width="1.0"/>
<rect x="663.8" y="404.8" width="18.5" height="2.8" rx="1.4" fill="#fff" stroke="#231f20" stroke-width="1.0"/>
<rect x="684.7" y="404.8" width="18.5" height="2.8" rx="1.4" fill="#fff" stroke="#231f20" stroke-width="1.0"/>
<rect x="705.6" y="404.8" width="18.5" height="2.8" rx="1.4" fill="#fff" stroke="#231f20" stroke-width="1.0"/>
<rect x="726.5" y="404.8" width="18.5" height="2.8" rx="1.4" fill="#fff" stroke="#231f20" stroke-width="1.0"/>
<rect x="747.4" y="404.8" width="18.5" height="2.8" rx="1.4" fill="#fff" stroke="#231f20" stroke-width="1.0"/>
<rect x="768.3" y="404.8" width="18.5" height="2.8" rx="1.4" fill="#fff" stroke="#231f20" stroke-width="1.0"/>
<rect x="789.2" y="404.8" width="18.5" height="2.8" rx="1.4" fill="#fff" stroke="#231f20" stroke-width="1.0"/>
<rect x="810.1" y="404.8" width="18.5" height="2.8" rx="1.4" fill="#fff" stroke="#231f20" stroke-width="1.0"/>
<rect x="632.45" y="409.8" width="18.5" height="2.8" rx="1.4" fill="#fff" stroke="#231f20" stroke-width="1.0"/>
<rect x="653.35" y="409.8" width="18.5" height="2.8" rx="1.4" fill="#fff" stroke="#231f20" stroke-width="1.0"/>
<rect x="674.25" y="409.8" width="18.5" height="2.8" rx="1.4" fill="#fff" stroke="#231f20" stroke-width="1.0"/>
<rect x="695.15" y="409.8" width="18.5" height="2.8" rx="1.4" fill="#fff" stroke="#231f20" stroke-width="1.0"/>
<rect x="716.05" y="409.8" width="18.5" height="2.8" rx="1.4" fill="#fff" stroke="#231f20" stroke-width="1.0"/>
<rect x="736.95" y="409.8" width="18.5" height="2.8" rx="1.4" fill="#fff" stroke="#231f20" stroke-width="1.0"/>
<rect x="757.85" y="409.8" width="18.5" height="2.8" rx="1.4" fill="#fff" stroke="#231f20" stroke-width="1.0"/>
<rect x="778.75" y="409.8" width="18.5" height="2.8" rx="1.4" fill="#fff" stroke="#231f20" stroke-width="1.0"/>
<rect x="799.65" y="409.8" width="18.5" height="2.8" rx="1.4" fill="#fff" stroke="#231f20" stroke-width="1.0"/>
<rect x="622" y="414.8" width="18.5" height="2.8" rx="1.4" fill="#fff" stroke="#231f20" stroke-width="1.0"/>
<rect x="642.9" y="414.8" width="18.5" height="2.8" rx="1.4" fill="#fff" stroke="#231f20" stroke-width="1.0"/>
<rect x="663.8" y="414.8" width="18.5" height="2.8" rx="1.4" fill="#fff" stroke="#231f20" stroke-width="1.0"/>
<rect x="684.7" y="414.8" width="18.5" height="2.8" rx="1.4" fill="#fff" stroke="#231f20" stroke-width="1.0"/>
<rect x="705.6" y="414.8" width="18.5" height="2.8" rx="1.4" fill="#fff" stroke="#231f20" stroke-width="1.0"/>
<rect x="726.5" y="414.8" width="18.5" height="2.8" rx="1.4" fill="#fff" stroke="#231f20" stroke-width="1.0"/>
<rect x="747.4" y="414.8" width="18.5" height="2.8" rx="1.4" fill="#fff" stroke="#231f20" stroke-width="1.0"/>
<rect x="768.3" y="414.8" width="18.5" height="2.8" rx="1.4" fill="#fff" stroke="#231f20" stroke-width="1.0"/>
<rect x="789.2" y="414.8" width="18.5" height="2.8" rx="1.4" fill="#fff" stroke="#231f20" stroke-width="1.0"/>
<rect x="810.1" y="414.8" width="18.5" height="2.8" rx="1.4" fill="#fff" stroke="#231f20" stroke-width="1.0"/>
<rect x="632.45" y="419.8" width="18.5" height="2.8" rx="1.4" fill="#fff" stroke="#231f20" stroke-width="1.0"/>
<rect x="653.35" y="419.8" width="18.5" height="2.8" rx="1.4" fill="#fff" stroke="#231f20" stroke-width="1.0"/>
<rect x="674.25" y="419.8" width="18.5" height="2.8" rx="1.4" fill="#fff" stroke="#231f20" stroke-width="1.0"/>
<rect x="695.15" y="419.8" width="18.5" height="2.8" rx="1.4" fill="#fff" stroke="#231f20" stroke-width="1.0"/>
<rect x="716.05" y="419.8" width="18.5" height="2.8" rx="1.4" fill="#fff" stroke="#231f20" stroke-width="1.0"/>
<rect x="736.95" y="419.8" width="18.5" height="2.8" rx="1.4" fill="#fff" stroke="#231f20" stroke-width="1.0"/>
<rect x="757.85" y="419.8" width="18.5" height="2.8" rx="1.4" fill="#fff" stroke="#231f20" stroke-width="1.0"/>
<rect x="778.75" y="419.8" width="18.5" height="2.8" rx="1.4" fill="#fff" stroke="#231f20" stroke-width="1.0"/>
<rect x="799.65" y="419.8" width="18.5" height="2.8" rx="1.4" fill="#fff" stroke="#231f20" stroke-width="1.0"/>
<rect x="622" y="424.8" width="18.5" height="2.8" rx="1.4" fill="#fff" stroke="#231f20" stroke-width="1.0"/>
<rect x="642.9" y="424.8" width="18.5" height="2.8" rx="1.4" fill="#fff" stroke="#231f20" stroke-width="1.0"/>
<rect x="663.8" y="424.8" width="18.5" height="2.8" rx="1.4" fill="#fff" stroke="#231f20" stroke-width="1.0"/>
<rect x="684.7" y="424.8" width="18.5" height="2.8" rx="1.4" fill="#fff" stroke="#231f20" stroke-width="1.0"/>
<rect x="705.6" y="424.8" width="18.5" height="2.8" rx="1.4" fill="#fff" stroke="#231f20" stroke-width="1.0"/>
<rect x="726.5" y="424.8" width="18.5" height="2.8" rx="1.4" fill="#fff" stroke="#231f20" stroke-width="1.0"/>
<rect x="747.4" y="424.8" width="18.5" height="2.8" rx="1.4" fill="#fff" stroke="#231f20" stroke-width="1.0"/>
<rect x="768.3" y="424.8" width="18.5" height="2.8" rx="1.4" fill="#fff" stroke="#231f20" stroke-width="1.0"/>
<rect x="789.2" y="424.8" width="18.5" height="2.8" rx="1.4" fill="#fff" stroke="#231f20" stroke-width="1.0"/>
<rect x="810.1" y="424.8" width="18.5" height="2.8" rx="1.4" fill="#fff" stroke="#231f20" stroke-width="1.0"/>
<rect x="632.45" y="429.8" width="18.5" height="2.8" rx="1.4" fill="#fff" stroke="#231f20" stroke-width="1.0"/>
<rect x="653.35" y="429.8" width="18.5" height="2.8" rx="1.4" fill="#fff" stroke="#231f20" stroke-width="1.0"/>
<rect x="674.25" y="429.8" width="18.5" height="2.8" rx="1.4" fill="#fff" stroke="#231f20" stroke-width="1.0"/>
<rect x="695.15" y="429.8" width="18.5" height="2.8" rx="1.4" fill="#fff" stroke="#231f20" stroke-width="1.0"/>
<rect x="716.05" y="429.8" width="18.5" height="2.8" rx="1.4" fill="#fff" stroke="#231f20" stroke-width="1.0"/>
<rect x="736.95" y="429.8" width="18.5" height="2.8" rx="1.4" fill="#fff" stroke="#231f20" stroke-width="1.0"/>
<rect x="757.85" y="429.8" width="18.5" height="2.8" rx="1.4" fill="#fff" stroke="#231f20" stroke-width="1.0"/>
<rect x="778.75" y="429.8" width="18.5" height="2.8" rx="1.4" fill="#fff" stroke="#231f20" stroke-width="1.0"/>
<rect x="799.65" y="429.8" width="18.5" height="2.8" rx="1.4" fill="#fff" stroke="#231f20" stroke-width="1.0"/>
<rect x="622" y="434.8" width="18.5" height="2.8" rx="1.4" fill="#fff" stroke="#231f20" stroke-width="1.0"/>
<rect x="642.9" y="434.8" width="18.5" height="2.8" rx="1.4" fill="#fff" stroke="#231f20" stroke-width="1.0"/>
<rect x="663.8" y="434.8" width="18.5" height="2.8" rx="1.4" fill="#fff" stroke="#231f20" stroke-width="1.0"/>
<rect x="684.7" y="434.8" width="18.5" height="2.8" rx="1.4" fill="#fff" stroke="#231f20" stroke-width="1.0"/>
<rect x="705.6" y="434.8" width="18.5" height="2.8" rx="1.4" fill="#fff" stroke="#231f20" stroke-width="1.0"/>
<rect x="726.5" y="434.8" width="18.5" height="2.8" rx="1.4" fill="#fff" stroke="#231f20" stroke-width="1.0"/>
<rect x="747.4" y="434.8" width="18.5" height="2.8" rx="1.4" fill="#fff" stroke="#231f20" stroke-width="1.0"/>
<rect x="768.3" y="434.8" width="18.5" height="2.8" rx="1.4" fill="#fff" stroke="#231f20" stroke-width="1.0"/>
<rect x="789.2" y="434.8" width="18.5" height="2.8" rx="1.4" fill="#fff" stroke="#231f20" stroke-width="1.0"/>
<rect x="810.1" y="434.8" width="18.5" height="2.8" rx="1.4" fill="#fff" stroke="#231f20" stroke-width="1.0"/>
<rect x="632.45" y="439.8" width="18.5" height="2.8" rx="1.4" fill="#fff" stroke="#231f20" stroke-width="1.0"/>
<rect x="653.35" y="439.8" width="18.5" height="2.8" rx="1.4" fill="#fff" stroke="#231f20" stroke-width="1.0"/>
<rect x="674.25" y="439.8" width="18.5" height="2.8" rx="1.4" fill="#fff" stroke="#231f20" stroke-width="1.0"/>
<rect x="695.15" y="439.8" width="18.5" height="2.8" rx="1.4" fill="#fff" stroke="#231f20" stroke-width="1.0"/>
<rect x="716.05" y="439.8" width="18.5" height="2.8" rx="1.4" fill="#fff" stroke="#231f20" stroke-width="1.0"/>
<rect x="736.95" y="439.8" width="18.5" height="2.8" rx="1.4" fill="#fff" stroke="#231f20" stroke-width="1.0"/>
<rect x="757.85" y="439.8" width="18.5" height="2.8" rx="1.4" fill="#fff" stroke="#231f20" stroke-width="1.0"/>
<rect x="778.75" y="439.8" width="18.5" height="2.8" rx="1.4" fill="#fff" stroke="#231f20" stroke-width="1.0"/>
<rect x="799.65" y="439.8" width="18.5" height="2.8" rx="1.4" fill="#fff" stroke="#231f20" stroke-width="1.0"/>
<rect x="622" y="444.8" width="18.5" height="2.8" rx="1.4" fill="#fff" stroke="#231f20" stroke-width="1.0"/>
<rect x="642.9" y="444.8" width="18.5" height="2.8" rx="1.4" fill="#fff" stroke="#231f20" stroke-width="1.0"/>
<rect x="663.8" y="444.8" width="18.5" height="2.8" rx="1.4" fill="#fff" stroke="#231f20" stroke-width="1.0"/>
<rect x="684.7" y="444.8" width="18.5" height="2.8" rx="1.4" fill="#fff" stroke="#231f20" stroke-width="1.0"/>
<rect x="705.6" y="444.8" width="18.5" height="2.8" rx="1.4" fill="#fff" stroke="#231f20" stroke-width="1.0"/>
<rect x="726.5" y="444.8" width="18.5" height="2.8" rx="1.4" fill="#fff" stroke="#231f20" stroke-width="1.0"/>
<rect x="747.4" y="444.8" width="18.5" height="2.8" rx="1.4" fill="#fff" stroke="#231f20" stroke-width="1.0"/>
<rect x="768.3" y="444.8" width="18.5" height="2.8" rx="1.4" fill="#fff" stroke="#231f20" stroke-width="1.0"/>
<rect x="789.2" y="444.8" width="18.5" height="2.8" rx="1.4" fill="#fff" stroke="#231f20" stroke-width="1.0"/>
<rect x="810.1" y="444.8" width="18.5" height="2.8" rx="1.4" fill="#fff" stroke="#231f20" stroke-width="1.0"/>
<rect x="632.45" y="449.8" width="18.5" height="2.8" rx="1.4" fill="#fff" stroke="#231f20" stroke-width="1.0"/>
<rect x="653.35" y="449.8" width="18.5" height="2.8" rx="1.4" fill="#fff" stroke="#231f20" stroke-width="1.0"/>
<rect x="674.25" y="449.8" width="18.5" height="2.8" rx="1.4" fill="#fff" stroke="#231f20" stroke-width="1.0"/>
<rect x="695.15" y="449.8" width="18.5" height="2.8" rx="1.4" fill="#fff" stroke="#231f20" stroke-width="1.0"/>
<rect x="716.05" y="449.8" width="18.5" height="2.8" rx="1.4" fill="#fff" stroke="#231f20" stroke-width="1.0"/>
<rect x="736.95" y="449.8" width="18.5" height="2.8" rx="1.4" fill="#fff" stroke="#231f20" stroke-width="1.0"/>
<rect x="757.85" y="449.8" width="18.5" height="2.8" rx="1.4" fill="#fff" stroke="#231f20" stroke-width="1.0"/>
<rect x="778.75" y="449.8" width="18.5" height="2.8" rx="1.4" fill="#fff" stroke="#231f20" stroke-width="1.0"/>
<rect x="799.65" y="449.8" width="18.5" height="2.8" rx="1.4" fill="#fff" stroke="#231f20" stroke-width="1.0"/>
<rect x="622" y="454.8" width="18.5" height="2.8" rx="1.4" fill="#fff" stroke="#231f20" stroke-width="1.0"/>
<rect x="642.9" y="454.8" width="18.5" height="2.8" rx="1.4" fill="#fff" stroke="#231f20" stroke-width="1.0"/>
<rect x="663.8" y="454.8" width="18.5" height="2.8" rx="1.4" fill="#fff" stroke="#231f20" stroke-width="1.0"/>
<rect x="684.7" y="454.8" width="18.5" height="2.8" rx="1.4" fill="#fff" stroke="#231f20" stroke-width="1.0"/>
<rect x="705.6" y="454.8" width="18.5" height="2.8" rx="1.4" fill="#fff" stroke="#231f20" stroke-width="1.0"/>
<rect x="726.5" y="454.8" width="18.5" height="2.8" rx="1.4" fill="#fff" stroke="#231f20" stroke-width="1.0"/>
<rect x="747.4" y="454.8" width="18.5" height="2.8" rx="1.4" fill="#fff" stroke="#231f20" stroke-width="1.0"/>
<rect x="768.3" y="454.8" width="18.5" height="2.8" rx="1.4" fill="#fff" stroke="#231f20" stroke-width="1.0"/>
<rect x="789.2" y="454.8" width="18.5" height="2.8" rx="1.4" fill="#fff" stroke="#231f20" stroke-width="1.0"/>
<rect x="810.1" y="454.8" width="18.5" height="2.8" rx="1.4" fill="#fff" stroke="#231f20" stroke-width="1.0"/>
<rect x="632.45" y="459.8" width="18.5" height="2.8" rx="1.4" fill="#fff" stroke="#231f20" stroke-width="1.0"/>
<rect x="653.35" y="459.8" width="18.5" height="2.8" rx="1.4" fill="#fff" stroke="#231f20" stroke-width="1.0"/>
<rect x="674.25" y="459.8" width="18.5" height="2.8" rx="1.4" fill="#fff" stroke="#231f20" stroke-width="1.0"/>
<rect x="695.15" y="459.8" width="18.5" height="2.8" rx="1.4" fill="#fff" stroke="#231f20" stroke-width="1.0"/>
<rect x="716.05" y="459.8" width="18.5" height="2.8" rx="1.4" fill="#fff" stroke="#231f20" stroke-width="1.0"/>
<rect x="736.95" y="459.8" width="18.5" height="2.8" rx="1.4" fill="#fff" stroke="#231f20" stroke-width="1.0"/>
<rect x="757.85" y="459.8" width="18.5" height="2.8" rx="1.4" fill="#fff" stroke="#231f20" stroke-width="1.0"/>
<rect x="778.75" y="459.8" width="18.5" height="2.8" rx="1.4" fill="#fff" stroke="#231f20" stroke-width="1.0"/>
<rect x="799.65" y="459.8" width="18.5" height="2.8" rx="1.4" fill="#fff" stroke="#231f20" stroke-width="1.0"/>
<rect x="622" y="464.8" width="18.5" height="2.8" rx="1.4" fill="#fff" stroke="#231f20" stroke-width="1.0"/>
<rect x="642.9" y="464.8" width="18.5" height="2.8" rx="1.4" fill="#fff" stroke="#231f20" stroke-width="1.0"/>
<rect x="663.8" y="464.8" width="18.5" height="2.8" rx="1.4" fill="#fff" stroke="#231f20" stroke-width="1.0"/>
<rect x="684.7" y="464.8" width="18.5" height="2.8" rx="1.4" fill="#fff" stroke="#231f20" stroke-width="1.0"/>
<rect x="705.6" y="464.8" width="18.5" height="2.8" rx="1.4" fill="#fff" stroke="#231f20" stroke-width="1.0"/>
<rect x="726.5" y="464.8" width="18.5" height="2.8" rx="1.4" fill="#fff" stroke="#231f20" stroke-width="1.0"/>
<rect x="747.4" y="464.8" width="18.5" height="2.8" rx="1.4" fill="#fff" stroke="#231f20" stroke-width="1.0"/>
<rect x="768.3" y="464.8" width="18.5" height="2.8" rx="1.4" fill="#fff" stroke="#231f20" stroke-width="1.0"/>
<rect x="789.2" y="464.8" width="18.5" height="2.8" rx="1.4" fill="#fff" stroke="#231f20" stroke-width="1.0"/>
<rect x="810.1" y="464.8" width="18.5" height="2.8" rx="1.4" fill="#fff" stroke="#231f20" stroke-width="1.0"/>
<rect x="632.45" y="469.8" width="18.5" height="2.8" rx="1.4" fill="#fff" stroke="#231f20" stroke-width="1.0"/>
<rect x="653.35" y="469.8" width="18.5" height="2.8" rx="1.4" fill="#fff" stroke="#231f20" stroke-width="1.0"/>
<rect x="674.25" y="469.8" width="18.5" height="2.8" rx="1.4" fill="#fff" stroke="#231f20" stroke-width="1.0"/>
<rect x="695.15" y="469.8" width="18.5" height="2.8" rx="1.4" fill="#fff" stroke="#231f20" stroke-width="1.0"/>
<rect x="716.05" y="469.8" width="18.5" height="2.8" rx="1.4" fill="#fff" stroke="#231f20" stroke-width="1.0"/>
<rect x="736.95" y="469.8" width="18.5" height="2.8" rx="1.4" fill="#fff" stroke="#231f20" stroke-width="1.0"/>
<rect x="757.85" y="469.8" width="18.5" height="2.8" rx="1.4" fill="#fff" stroke="#231f20" stroke-width="1.0"/>
<rect x="778.75" y="469.8" width="18.5" height="2.8" rx="1.4" fill="#fff" stroke="#231f20" stroke-width="1.0"/>
<rect x="799.65" y="469.8" width="18.5" height="2.8" rx="1.4" fill="#fff" stroke="#231f20" stroke-width="1.0"/>
<rect x="622" y="474.8" width="18.5" height="2.8" rx="1.4" fill="#fff" stroke="#231f20" stroke-width="1.0"/>
<rect x="642.9" y="474.8" width="18.5" height="2.8" rx="1.4" fill="#fff" stroke="#231f20" stroke-width="1.0"/>
<rect x="663.8" y="474.8" width="18.5" height="2.8" rx="1.4" fill="#fff" stroke="#231f20" stroke-width="1.0"/>
<rect x="684.7" y="474.8" width="18.5" height="2.8" rx="1.4" fill="#fff" stroke="#231f20" stroke-width="1.0"/>
<rect x="705.6" y="474.8" width="18.5" height="2.8" rx="1.4" fill="#fff" stroke="#231f20" stroke-width="1.0"/>
<rect x="726.5" y="474.8" width="18.5" height="2.8" rx="1.4" fill="#fff" stroke="#231f20" stroke-width="1.0"/>
<rect x="747.4" y="474.8" width="18.5" height="2.8" rx="1.4" fill="#fff" stroke="#231f20" stroke-width="1.0"/>
<rect x="768.3" y="474.8" width="18.5" height="2.8" rx="1.4" fill="#fff" stroke="#231f20" stroke-width="1.0"/>
<rect x="789.2" y="474.8" width="18.5" height="2.8" rx="1.4" fill="#fff" stroke="#231f20" stroke-width="1.0"/>
<rect x="810.1" y="474.8" width="18.5" height="2.8" rx="1.4" fill="#fff" stroke="#231f20" stroke-width="1.0"/>
<rect x="632.45" y="479.8" width="18.5" height="2.8" rx="1.4" fill="#fff" stroke="#231f20" stroke-width="1.0"/>
<rect x="653.35" y="479.8" width="18.5" height="2.8" rx="1.4" fill="#fff" stroke="#231f20" stroke-width="1.0"/>
<rect x="674.25" y="479.8" width="18.5" height="2.8" rx="1.4" fill="#fff" stroke="#231f20" stroke-width="1.0"/>
<rect x="695.15" y="479.8" width="18.5" height="2.8" rx="1.4" fill="#fff" stroke="#231f20" stroke-width="1.0"/>
<rect x="716.05" y="479.8" width="18.5" height="2.8" rx="1.4" fill="#fff" stroke="#231f20" stroke-width="1.0"/>
<rect x="736.95" y="479.8" width="18.5" height="2.8" rx="1.4" fill="#fff" stroke="#231f20" stroke-width="1.0"/>
<rect x="757.85" y="479.8" width="18.5" height="2.8" rx="1.4" fill="#fff" stroke="#231f20" stroke-width="1.0"/>
<rect x="778.75" y="479.8" width="18.5" height="2.8" rx="1.4" fill="#fff" stroke="#231f20" stroke-width="1.0"/>
<rect x="799.65" y="479.8" width="18.5" height="2.8" rx="1.4" fill="#fff" stroke="#231f20" stroke-width="1.0"/>
<rect x="622" y="484.8" width="18.5" height="2.8" rx="1.4" fill="#fff" stroke="#231f20" stroke-width="1.0"/>
<rect x="642.9" y="484.8" width="18.5" height="2.8" rx="1.4" fill="#fff" stroke="#231f20" stroke-width="1.0"/>
<rect x="663.8" y="484.8" width="18.5" height="2.8" rx="1.4" fill="#fff" stroke="#231f20" stroke-width="1.0"/>
<rect x="684.7" y="484.8" width="18.5" height="2.8" rx="1.4" fill="#fff" stroke="#231f20" stroke-width="1.0"/>
<rect x="705.6" y="484.8" width="18.5" height="2.8" rx="1.4" fill="#fff" stroke="#231f20" stroke-width="1.0"/>
<rect x="726.5" y="484.8" width="18.5" height="2.8" rx="1.4" fill="#fff" stroke="#231f20" stroke-width="1.0"/>
<rect x="747.4" y="484.8" width="18.5" height="2.8" rx="1.4" fill="#fff" stroke="#231f20" stroke-width="1.0"/>
<rect x="768.3" y="484.8" width="18.5" height="2.8" rx="1.4" fill="#fff" stroke="#231f20" stroke-width="1.0"/>
<rect x="789.2" y="484.8" width="18.5" height="2.8" rx="1.4" fill="#fff" stroke="#231f20" stroke-width="1.0"/>
<rect x="810.1" y="484.8" width="18.5" height="2.8" rx="1.4" fill="#fff" stroke="#231f20" stroke-width="1.0"/>
<line x1="604.2" y1="504.45" x2="967" y2="504.45" stroke="#231f20" stroke-width="2.3" />
<path d="M606.7,502.3 L606.7,524 L622,524" stroke="#231f20" stroke-width="5" fill="none" stroke-linejoin="round" stroke-linecap="round"/>
<path d="M964.5,502.3 L964.5,524 L949.2,524" stroke="#231f20" stroke-width="5" fill="none" stroke-linejoin="round" stroke-linecap="round"/>
<line x1="617" y1="524.75" x2="954.2" y2="524.75" stroke="#231f20" stroke-width="2.3" />
<path d="M619.5,521.5 L619.5,569.1 L628.4,569.1" stroke="#231f20" stroke-width="5" fill="none" stroke-linejoin="round" stroke-linecap="round"/>
<path d="M951.7,521.5 L951.7,569.1 L942,569.1" stroke="#231f20" stroke-width="5" fill="none" stroke-linejoin="round" stroke-linecap="round"/>
<line x1="622" y1="560.3" x2="949.2" y2="560.3" stroke="#231f20" stroke-width="2" />
<line x1="623.4" y1="569.65" x2="947" y2="569.65" stroke="#231f20" stroke-width="2.3" />
<path d="M625.9,566.6 L625.9,690.5 L944.5,690.5 L944.5,566.6" stroke="#231f20" stroke-width="5" fill="none" stroke-linejoin="round"/>
<line x1="628.4" y1="680.3" x2="942" y2="680.3" stroke="#231f20" stroke-width="2" />
<circle cx="703.9" cy="631.2" r="55.5" fill="#fff"/>
<circle cx="703.9" cy="631.2" r="53.9" fill="none" stroke="#231f20" stroke-width="2.5"/>
<circle cx="703.9" cy="631.2" r="49.5" fill="none" stroke="#231f20" stroke-width="2.5"/>
<circle cx="703.9" cy="631.2" r="44.4" fill="none" stroke="#231f20" stroke-width="2.5"/>
<circle cx="703.9" cy="631.2" r="38.5" fill="none" stroke="#231f20" stroke-width="2.5"/>
<circle cx="703.9" cy="631.2" r="32.3" fill="none" stroke="#231f20" stroke-width="2.5"/>
<circle cx="703.9" cy="631.2" r="26.0" fill="none" stroke="#231f20" stroke-width="2.5"/>
<line x1="703.9" y1="575.7" x2="703.9" y2="686.7" stroke="#231f20" stroke-width="2.5"/>
<line x1="648.4" y1="631.2" x2="759.4" y2="631.2" stroke="#231f20" stroke-width="2.5"/>
<g transform="translate(703.9,631.2) rotate(45)"><rect x="-63.5" y="-3.4" width="13.5" height="6.8" rx="3.4" fill="#fff" stroke="#231f20" stroke-width="2"/><rect x="50" y="-3.4" width="13.5" height="6.8" rx="3.4" fill="#fff" stroke="#231f20" stroke-width="2"/><rect x="-56" y="-2.1" width="112" height="4.2" fill="#fff" stroke="#231f20" stroke-width="2"/></g>
<g transform="translate(703.9,631.2) rotate(135)"><rect x="-63.5" y="-3.4" width="13.5" height="6.8" rx="3.4" fill="#fff" stroke="#231f20" stroke-width="2"/><rect x="50" y="-3.4" width="13.5" height="6.8" rx="3.4" fill="#fff" stroke="#231f20" stroke-width="2"/><rect x="-56" y="-2.1" width="112" height="4.2" fill="#fff" stroke="#231f20" stroke-width="2"/></g>
<rect x="682.6" y="607.7" width="41.5" height="42.5" rx="3" fill="#231f20"/>
<path d="M706.66,626.63 A5.7,5.7 0 1 0 706.66,635.37" fill="none" stroke="#fff" stroke-width="1.0"/>
<circle cx="702.8" cy="631" r="2.3" fill="#fff"/><circle cx="703.9" cy="631" r="1.9" fill="#231f20"/>
<path d="M693.6,638.6 Q703.2,647.4 713.5,638.6" fill="none" stroke="#fff" stroke-width="1.7"/>
<line x1="688.9" y1="614.2" x2="690.9" y2="617.2" stroke="#fff" stroke-width="0.9" stroke-linecap="round" opacity="0.85"/>
<line x1="695.9" y1="614.2" x2="696.4" y2="616.2" stroke="#fff" stroke-width="0.9" stroke-linecap="round" opacity="0.85"/>
<line x1="710.9" y1="614.2" x2="711.4" y2="616.2" stroke="#fff" stroke-width="0.9" stroke-linecap="round" opacity="0.85"/>
<line x1="717.9" y1="614.2" x2="715.9" y2="617.2" stroke="#fff" stroke-width="0.9" stroke-linecap="round" opacity="0.85"/>
<line x1="693.9" y1="619.2" x2="695.4" y2="621.2" stroke="#fff" stroke-width="0.9" stroke-linecap="round" opacity="0.85"/>
<line x1="713.9" y1="619.2" x2="712.4" y2="621.2" stroke="#fff" stroke-width="0.9" stroke-linecap="round" opacity="0.85"/>
<line x1="691.4" y1="630.2" x2="693.9" y2="630.2" stroke="#fff" stroke-width="0.9" stroke-linecap="round" opacity="0.85"/>
<line x1="691.9" y1="635.2" x2="693.9" y2="634.2" stroke="#fff" stroke-width="0.9" stroke-linecap="round" opacity="0.85"/>
<line x1="713.9" y1="635.2" x2="716.4" y2="636.2" stroke="#fff" stroke-width="0.9" stroke-linecap="round" opacity="0.85"/>
<line x1="689.9" y1="644.2" x2="691.9" y2="642.2" stroke="#fff" stroke-width="0.9" stroke-linecap="round" opacity="0.85"/>
<line x1="717.9" y1="644.2" x2="715.9" y2="642.2" stroke="#fff" stroke-width="0.9" stroke-linecap="round" opacity="0.85"/>
<line x1="696.9" y1="645.2" x2="697.4" y2="643.7" stroke="#fff" stroke-width="0.9" stroke-linecap="round" opacity="0.85"/>
<line x1="709.9" y1="645.2" x2="710.4" y2="643.7" stroke="#fff" stroke-width="0.9" stroke-linecap="round" opacity="0.85"/>
<line x1="702.9" y1="619.2" x2="702.9" y2="620.7" stroke="#fff" stroke-width="0.9" stroke-linecap="round" opacity="0.85"/>
<line x1="705.9" y1="619.2" x2="705.9" y2="620.7" stroke="#fff" stroke-width="0.9" stroke-linecap="round" opacity="0.85"/>
<circle cx="867.3" cy="631.2" r="55.5" fill="#fff"/>
<circle cx="867.3" cy="631.2" r="53.9" fill="none" stroke="#231f20" stroke-width="2.5"/>
<circle cx="867.3" cy="631.2" r="49.5" fill="none" stroke="#231f20" stroke-width="2.5"/>
<circle cx="867.3" cy="631.2" r="44.4" fill="none" stroke="#231f20" stroke-width="2.5"/>
<circle cx="867.3" cy="631.2" r="38.5" fill="none" stroke="#231f20" stroke-width="2.5"/>
<circle cx="867.3" cy="631.2" r="32.3" fill="none" stroke="#231f20" stroke-width="2.5"/>
<circle cx="867.3" cy="631.2" r="26.0" fill="none" stroke="#231f20" stroke-width="2.5"/>
<line x1="867.3" y1="575.7" x2="867.3" y2="686.7" stroke="#231f20" stroke-width="2.5"/>
<line x1="811.8" y1="631.2" x2="922.8" y2="631.2" stroke="#231f20" stroke-width="2.5"/>
<g transform="translate(867.3,631.2) rotate(45)"><rect x="-63.5" y="-3.4" width="13.5" height="6.8" rx="3.4" fill="#fff" stroke="#231f20" stroke-width="2"/><rect x="50" y="-3.4" width="13.5" height="6.8" rx="3.4" fill="#fff" stroke="#231f20" stroke-width="2"/><rect x="-56" y="-2.1" width="112" height="4.2" fill="#fff" stroke="#231f20" stroke-width="2"/></g>
<g transform="translate(867.3,631.2) rotate(135)"><rect x="-63.5" y="-3.4" width="13.5" height="6.8" rx="3.4" fill="#fff" stroke="#231f20" stroke-width="2"/><rect x="50" y="-3.4" width="13.5" height="6.8" rx="3.4" fill="#fff" stroke="#231f20" stroke-width="2"/><rect x="-56" y="-2.1" width="112" height="4.2" fill="#fff" stroke="#231f20" stroke-width="2"/></g>
<rect x="846" y="607.7" width="41.5" height="42.5" rx="3" fill="#231f20"/>
<path d="M870.06,626.63 A5.7,5.7 0 1 0 870.06,635.37" fill="none" stroke="#fff" stroke-width="1.0"/>
<circle cx="866.2" cy="631" r="2.3" fill="#fff"/><circle cx="867.3" cy="631" r="1.9" fill="#231f20"/>
<path d="M857,638.6 Q866.6,647.4 876.9,638.6" fill="none" stroke="#fff" stroke-width="1.7"/>
<line x1="852.3" y1="614.2" x2="854.3" y2="617.2" stroke="#fff" stroke-width="0.9" stroke-linecap="round" opacity="0.85"/>
<line x1="859.3" y1="614.2" x2="859.8" y2="616.2" stroke="#fff" stroke-width="0.9" stroke-linecap="round" opacity="0.85"/>
<line x1="874.3" y1="614.2" x2="874.8" y2="616.2" stroke="#fff" stroke-width="0.9" stroke-linecap="round" opacity="0.85"/>
<line x1="881.3" y1="614.2" x2="879.3" y2="617.2" stroke="#fff" stroke-width="0.9" stroke-linecap="round" opacity="0.85"/>
<line x1="857.3" y1="619.2" x2="858.8" y2="621.2" stroke="#fff" stroke-width="0.9" stroke-linecap="round" opacity="0.85"/>
<line x1="877.3" y1="619.2" x2="875.8" y2="621.2" stroke="#fff" stroke-width="0.9" stroke-linecap="round" opacity="0.85"/>
<line x1="854.8" y1="630.2" x2="857.3" y2="630.2" stroke="#fff" stroke-width="0.9" stroke-linecap="round" opacity="0.85"/>
<line x1="855.3" y1="635.2" x2="857.3" y2="634.2" stroke="#fff" stroke-width="0.9" stroke-linecap="round" opacity="0.85"/>
<line x1="877.3" y1="635.2" x2="879.8" y2="636.2" stroke="#fff" stroke-width="0.9" stroke-linecap="round" opacity="0.85"/>
<line x1="853.3" y1="644.2" x2="855.3" y2="642.2" stroke="#fff" stroke-width="0.9" stroke-linecap="round" opacity="0.85"/>
<line x1="881.3" y1="644.2" x2="879.3" y2="642.2" stroke="#fff" stroke-width="0.9" stroke-linecap="round" opacity="0.85"/>
<line x1="860.3" y1="645.2" x2="860.8" y2="643.7" stroke="#fff" stroke-width="0.9" stroke-linecap="round" opacity="0.85"/>
<line x1="873.3" y1="645.2" x2="873.8" y2="643.7" stroke="#fff" stroke-width="0.9" stroke-linecap="round" opacity="0.85"/>
<line x1="866.3" y1="619.2" x2="866.3" y2="620.7" stroke="#fff" stroke-width="0.9" stroke-linecap="round" opacity="0.85"/>
<line x1="869.3" y1="619.2" x2="869.3" y2="620.7" stroke="#fff" stroke-width="0.9" stroke-linecap="round" opacity="0.85"/>
<circle cx="785.2" cy="685.5" r="2.2" fill="#fff" stroke="#231f20" stroke-width="1.4"/>
<line x1="549" y1="270.4" x2="1021" y2="270.4" stroke="#231f20" stroke-width="1" />
<line x1="601.2" y1="274.2" x2="608.8" y2="266.6" stroke="#231f20" stroke-width="1.7" />
<line x1="609.5" y1="274.2" x2="617.1" y2="266.6" stroke="#231f20" stroke-width="1.7" />
<line x1="953.2" y1="274.2" x2="960.8" y2="266.6" stroke="#231f20" stroke-width="1.7" />
<line x1="961.4" y1="274.2" x2="969" y2="266.6" stroke="#231f20" stroke-width="1.7" />
<line x1="605" y1="257" x2="605" y2="499" stroke="#231f20" stroke-width="1" />
<line x1="965.2" y1="257" x2="965.2" y2="499" stroke="#231f20" stroke-width="1" />
<line x1="613.3" y1="257" x2="613.3" y2="320" stroke="#231f20" stroke-width="1" />
<line x1="957" y1="257" x2="957" y2="320" stroke="#231f20" stroke-width="1" />
<text x="572.2" y="265.6" font-family='"Liberation Sans", sans-serif' font-size="22.5" font-weight="normal" fill="#231f20" text-anchor="middle" textLength="31.4" lengthAdjust="spacingAndGlyphs" >16,5</text>
<text x="781.7" y="265.6" font-family='"Liberation Sans", sans-serif' font-size="22.5" font-weight="normal" fill="#231f20" text-anchor="middle" textLength="27.2" lengthAdjust="spacingAndGlyphs" >760</text>
<text x="992.6" y="265.6" font-family='"Liberation Sans", sans-serif' font-size="22.5" font-weight="normal" fill="#231f20" text-anchor="middle" textLength="31.6" lengthAdjust="spacingAndGlyphs" >16,5</text>
<line x1="541" y1="327" x2="541" y2="694" stroke="#231f20" stroke-width="1" />
<line x1="537.2" y1="323.8" x2="544.8" y2="331.4" stroke="#231f20" stroke-width="1.7" />
<line x1="537.2" y1="688.5" x2="544.8" y2="696.1" stroke="#231f20" stroke-width="1.7" />
<line x1="528" y1="327.6" x2="598.5" y2="327.6" stroke="#231f20" stroke-width="1" />
<line x1="528" y1="692.3" x2="610" y2="692.3" stroke="#231f20" stroke-width="1" />
<text transform="translate(537.04,513) rotate(-90)" x="0" y="0" font-family='"Liberation Sans", sans-serif' font-size="22.5" font-weight="normal" fill="#231f20" text-anchor="middle" textLength="28.7" lengthAdjust="spacingAndGlyphs" >806</text>
<line x1="1036.8" y1="470.6" x2="1036.8" y2="573" stroke="#231f20" stroke-width="1" />
<line x1="1033" y1="501.7" x2="1040.6" y2="509.3" stroke="#231f20" stroke-width="1.7" />
<line x1="1033" y1="520.8" x2="1040.6" y2="528.4" stroke="#231f20" stroke-width="1.7" />
<line x1="1033" y1="565.7" x2="1040.6" y2="573.3" stroke="#231f20" stroke-width="1.7" />
<line x1="973" y1="505.5" x2="1049" y2="505.5" stroke="#231f20" stroke-width="1" />
<line x1="973" y1="524.6" x2="1049" y2="524.6" stroke="#231f20" stroke-width="1" />
<line x1="958.9" y1="569.5" x2="1049" y2="569.5" stroke="#231f20" stroke-width="1" />
<text transform="translate(1032.94,487.8) rotate(-90)" x="0" y="0" font-family='"Liberation Sans", sans-serif' font-size="22.5" font-weight="normal" fill="#231f20" text-anchor="middle" textLength="17.5" lengthAdjust="spacingAndGlyphs" >40</text>
<text transform="translate(1032.94,548.9) rotate(-90)" x="0" y="0" font-family='"Liberation Sans", sans-serif' font-size="22.5" font-weight="normal" fill="#231f20" text-anchor="middle" textLength="26.4" lengthAdjust="spacingAndGlyphs" >100</text>
<line x1="587" y1="732.8" x2="991.7" y2="732.8" stroke="#231f20" stroke-width="1" />
<line x1="613.8" y1="736.6" x2="621.4" y2="729" stroke="#231f20" stroke-width="1.7" />
<line x1="620.9" y1="736.6" x2="628.5" y2="729" stroke="#231f20" stroke-width="1.7" />
<line x1="942.2" y1="736.6" x2="949.8" y2="729" stroke="#231f20" stroke-width="1.7" />
<line x1="949.2" y1="736.6" x2="956.8" y2="729" stroke="#231f20" stroke-width="1.7" />
<line x1="617.6" y1="576" x2="617.6" y2="795" stroke="#231f20" stroke-width="1" />
<line x1="624.7" y1="696.5" x2="624.7" y2="736" stroke="#231f20" stroke-width="1" />
<line x1="946" y1="700.5" x2="946" y2="736" stroke="#231f20" stroke-width="1" />
<line x1="953" y1="576" x2="953" y2="795" stroke="#231f20" stroke-width="1" />
<line x1="615" y1="782.6" x2="956" y2="782.6" stroke="#231f20" stroke-width="1" />
<line x1="613.8" y1="786.4" x2="621.4" y2="778.8" stroke="#231f20" stroke-width="1.7" />
<line x1="949.2" y1="786.4" x2="956.8" y2="778.8" stroke="#231f20" stroke-width="1.7" />
<text x="604.25" y="729.5" font-family='"Liberation Sans", sans-serif' font-size="22.5" font-weight="normal" fill="#231f20" text-anchor="middle" textLength="9.5" lengthAdjust="spacingAndGlyphs" >9</text>
<text x="782" y="729.5" font-family='"Liberation Sans", sans-serif' font-size="22.5" font-weight="normal" fill="#231f20" text-anchor="middle" textLength="28" lengthAdjust="spacingAndGlyphs" >710</text>
<text x="971.25" y="729.5" font-family='"Liberation Sans", sans-serif' font-size="22.5" font-weight="normal" fill="#231f20" text-anchor="middle" textLength="17.5" lengthAdjust="spacingAndGlyphs" >14</text>
<text x="782" y="777.5" font-family='"Liberation Sans", sans-serif' font-size="22.5" font-weight="normal" fill="#231f20" text-anchor="middle" textLength="28" lengthAdjust="spacingAndGlyphs" >733</text>
<path d="M1460.7,227 L1832,227 L1829,238 L1836,249.5 L1832.5,262.2 L1495.7,262.2 L1495.7,488.3 L1486.5,483 L1473,493 L1460.7,488.9 Z" fill="#a7a9ac"/>
<rect x="1496" y="32.3" width="252" height="171.7" fill="#fff"/>
<rect x="1488" y="204" width="268" height="24.2" fill="#fff"/>
<rect x="1502.2" y="204" width="238.8" height="70.2" fill="#fff"/>
<rect x="1618.7" y="273.2" width="117.6" height="118" fill="#fff"/>
<rect x="1507.7" y="226.7" width="227.8" height="35.2" fill="#ffd400"/>
<path d="M1498.75,206 L1498.75,35.05 L1745.25,35.05 L1745.25,206" stroke="#231f20" stroke-width="5.5" fill="none" stroke-linejoin="round"/>
<rect x="1493" y="199" width="8" height="9" rx="2.5" fill="#231f20"/>
<rect x="1743" y="199" width="8" height="9" rx="2.5" fill="#231f20"/>
<rect x="1590.1" y="42.8" width="18.6" height="2.8" rx="1.4" fill="#fff" stroke="#231f20" stroke-width="1.0"/>
<rect x="1611.1" y="42.8" width="18.6" height="2.8" rx="1.4" fill="#fff" stroke="#231f20" stroke-width="1.0"/>
<rect x="1632.1" y="42.8" width="18.6" height="2.8" rx="1.4" fill="#fff" stroke="#231f20" stroke-width="1.0"/>
<rect x="1600.6" y="47.78" width="18.6" height="2.8" rx="1.4" fill="#fff" stroke="#231f20" stroke-width="1.0"/>
<rect x="1621.6" y="47.78" width="18.6" height="2.8" rx="1.4" fill="#fff" stroke="#231f20" stroke-width="1.0"/>
<rect x="1590.1" y="52.76" width="18.6" height="2.8" rx="1.4" fill="#fff" stroke="#231f20" stroke-width="1.0"/>
<rect x="1611.1" y="52.76" width="18.6" height="2.8" rx="1.4" fill="#fff" stroke="#231f20" stroke-width="1.0"/>
<rect x="1632.1" y="52.76" width="18.6" height="2.8" rx="1.4" fill="#fff" stroke="#231f20" stroke-width="1.0"/>
<rect x="1600.6" y="57.74" width="18.6" height="2.8" rx="1.4" fill="#fff" stroke="#231f20" stroke-width="1.0"/>
<rect x="1621.6" y="57.74" width="18.6" height="2.8" rx="1.4" fill="#fff" stroke="#231f20" stroke-width="1.0"/>
<rect x="1590.1" y="62.72" width="18.6" height="2.8" rx="1.4" fill="#fff" stroke="#231f20" stroke-width="1.0"/>
<rect x="1611.1" y="62.72" width="18.6" height="2.8" rx="1.4" fill="#fff" stroke="#231f20" stroke-width="1.0"/>
<rect x="1632.1" y="62.72" width="18.6" height="2.8" rx="1.4" fill="#fff" stroke="#231f20" stroke-width="1.0"/>
<rect x="1600.6" y="67.7" width="18.6" height="2.8" rx="1.4" fill="#fff" stroke="#231f20" stroke-width="1.0"/>
<rect x="1621.6" y="67.7" width="18.6" height="2.8" rx="1.4" fill="#fff" stroke="#231f20" stroke-width="1.0"/>
<rect x="1590.1" y="72.68" width="18.6" height="2.8" rx="1.4" fill="#fff" stroke="#231f20" stroke-width="1.0"/>
<rect x="1611.1" y="72.68" width="18.6" height="2.8" rx="1.4" fill="#fff" stroke="#231f20" stroke-width="1.0"/>
<rect x="1632.1" y="72.68" width="18.6" height="2.8" rx="1.4" fill="#fff" stroke="#231f20" stroke-width="1.0"/>
<rect x="1600.6" y="77.66" width="18.6" height="2.8" rx="1.4" fill="#fff" stroke="#231f20" stroke-width="1.0"/>
<rect x="1621.6" y="77.66" width="18.6" height="2.8" rx="1.4" fill="#fff" stroke="#231f20" stroke-width="1.0"/>
<rect x="1590.1" y="82.64" width="18.6" height="2.8" rx="1.4" fill="#fff" stroke="#231f20" stroke-width="1.0"/>
<rect x="1611.1" y="82.64" width="18.6" height="2.8" rx="1.4" fill="#fff" stroke="#231f20" stroke-width="1.0"/>
<rect x="1632.1" y="82.64" width="18.6" height="2.8" rx="1.4" fill="#fff" stroke="#231f20" stroke-width="1.0"/>
<rect x="1600.6" y="87.62" width="18.6" height="2.8" rx="1.4" fill="#fff" stroke="#231f20" stroke-width="1.0"/>
<rect x="1621.6" y="87.62" width="18.6" height="2.8" rx="1.4" fill="#fff" stroke="#231f20" stroke-width="1.0"/>
<rect x="1590.1" y="92.6" width="18.6" height="2.8" rx="1.4" fill="#fff" stroke="#231f20" stroke-width="1.0"/>
<rect x="1611.1" y="92.6" width="18.6" height="2.8" rx="1.4" fill="#fff" stroke="#231f20" stroke-width="1.0"/>
<rect x="1632.1" y="92.6" width="18.6" height="2.8" rx="1.4" fill="#fff" stroke="#231f20" stroke-width="1.0"/>
<rect x="1600.6" y="97.58" width="18.6" height="2.8" rx="1.4" fill="#fff" stroke="#231f20" stroke-width="1.0"/>
<rect x="1621.6" y="97.58" width="18.6" height="2.8" rx="1.4" fill="#fff" stroke="#231f20" stroke-width="1.0"/>
<rect x="1590.1" y="102.56" width="18.6" height="2.8" rx="1.4" fill="#fff" stroke="#231f20" stroke-width="1.0"/>
<rect x="1611.1" y="102.56" width="18.6" height="2.8" rx="1.4" fill="#fff" stroke="#231f20" stroke-width="1.0"/>
<rect x="1632.1" y="102.56" width="18.6" height="2.8" rx="1.4" fill="#fff" stroke="#231f20" stroke-width="1.0"/>
<rect x="1600.6" y="107.54" width="18.6" height="2.8" rx="1.4" fill="#c2c2c4" stroke="#231f20" stroke-width="1.0"/>
<rect x="1621.6" y="107.54" width="18.6" height="2.8" rx="1.4" fill="#c2c2c4" stroke="#231f20" stroke-width="1.0"/>
<rect x="1590.1" y="112.52" width="18.6" height="2.8" rx="1.4" fill="#c2c2c4" stroke="#231f20" stroke-width="1.0"/>
<rect x="1611.1" y="112.52" width="18.6" height="2.8" rx="1.4" fill="#c2c2c4" stroke="#231f20" stroke-width="1.0"/>
<rect x="1632.1" y="112.52" width="18.6" height="2.8" rx="1.4" fill="#c2c2c4" stroke="#231f20" stroke-width="1.0"/>
<rect x="1600.6" y="117.5" width="18.6" height="2.8" rx="1.4" fill="#c2c2c4" stroke="#231f20" stroke-width="1.0"/>
<rect x="1621.6" y="117.5" width="18.6" height="2.8" rx="1.4" fill="#c2c2c4" stroke="#231f20" stroke-width="1.0"/>
<rect x="1590.1" y="122.48" width="18.6" height="2.8" rx="1.4" fill="#c2c2c4" stroke="#231f20" stroke-width="1.0"/>
<rect x="1611.1" y="122.48" width="18.6" height="2.8" rx="1.4" fill="#c2c2c4" stroke="#231f20" stroke-width="1.0"/>
<rect x="1632.1" y="122.48" width="18.6" height="2.8" rx="1.4" fill="#c2c2c4" stroke="#231f20" stroke-width="1.0"/>
<rect x="1600.6" y="127.46" width="18.6" height="2.8" rx="1.4" fill="#c2c2c4" stroke="#231f20" stroke-width="1.0"/>
<rect x="1621.6" y="127.46" width="18.6" height="2.8" rx="1.4" fill="#c2c2c4" stroke="#231f20" stroke-width="1.0"/>
<rect x="1590.1" y="132.44" width="18.6" height="2.8" rx="1.4" fill="#c2c2c4" stroke="#231f20" stroke-width="1.0"/>
<rect x="1611.1" y="132.44" width="18.6" height="2.8" rx="1.4" fill="#c2c2c4" stroke="#231f20" stroke-width="1.0"/>
<rect x="1632.1" y="132.44" width="18.6" height="2.8" rx="1.4" fill="#c2c2c4" stroke="#231f20" stroke-width="1.0"/>
<rect x="1600.6" y="137.42" width="18.6" height="2.8" rx="1.4" fill="#c2c2c4" stroke="#231f20" stroke-width="1.0"/>
<rect x="1621.6" y="137.42" width="18.6" height="2.8" rx="1.4" fill="#c2c2c4" stroke="#231f20" stroke-width="1.0"/>
<rect x="1590.1" y="142.4" width="18.6" height="2.8" rx="1.4" fill="#c2c2c4" stroke="#231f20" stroke-width="1.0"/>
<rect x="1611.1" y="142.4" width="18.6" height="2.8" rx="1.4" fill="#c2c2c4" stroke="#231f20" stroke-width="1.0"/>
<rect x="1632.1" y="142.4" width="18.6" height="2.8" rx="1.4" fill="#c2c2c4" stroke="#231f20" stroke-width="1.0"/>
<rect x="1600.6" y="147.38" width="18.6" height="2.8" rx="1.4" fill="#c2c2c4" stroke="#231f20" stroke-width="1.0"/>
<rect x="1621.6" y="147.38" width="18.6" height="2.8" rx="1.4" fill="#c2c2c4" stroke="#231f20" stroke-width="1.0"/>
<rect x="1590.1" y="152.36" width="18.6" height="2.8" rx="1.4" fill="#c2c2c4" stroke="#231f20" stroke-width="1.0"/>
<rect x="1611.1" y="152.36" width="18.6" height="2.8" rx="1.4" fill="#c2c2c4" stroke="#231f20" stroke-width="1.0"/>
<rect x="1632.1" y="152.36" width="18.6" height="2.8" rx="1.4" fill="#c2c2c4" stroke="#231f20" stroke-width="1.0"/>
<rect x="1600.6" y="157.34" width="18.6" height="2.8" rx="1.4" fill="#c2c2c4" stroke="#231f20" stroke-width="1.0"/>
<rect x="1621.6" y="157.34" width="18.6" height="2.8" rx="1.4" fill="#c2c2c4" stroke="#231f20" stroke-width="1.0"/>
<rect x="1590.1" y="162.32" width="18.6" height="2.8" rx="1.4" fill="#c2c2c4" stroke="#231f20" stroke-width="1.0"/>
<rect x="1611.1" y="162.32" width="18.6" height="2.8" rx="1.4" fill="#c2c2c4" stroke="#231f20" stroke-width="1.0"/>
<rect x="1632.1" y="162.32" width="18.6" height="2.8" rx="1.4" fill="#c2c2c4" stroke="#231f20" stroke-width="1.0"/>
<rect x="1600.6" y="167.3" width="18.6" height="2.8" rx="1.4" fill="#c2c2c4" stroke="#231f20" stroke-width="1.0"/>
<rect x="1621.6" y="167.3" width="18.6" height="2.8" rx="1.4" fill="#c2c2c4" stroke="#231f20" stroke-width="1.0"/>
<rect x="1590.1" y="172.28" width="18.6" height="2.8" rx="1.4" fill="#fff" stroke="#231f20" stroke-width="1.0"/>
<rect x="1611.1" y="172.28" width="18.6" height="2.8" rx="1.4" fill="#fff" stroke="#231f20" stroke-width="1.0"/>
<rect x="1632.1" y="172.28" width="18.6" height="2.8" rx="1.4" fill="#fff" stroke="#231f20" stroke-width="1.0"/>
<rect x="1600.6" y="177.26" width="18.6" height="2.8" rx="1.4" fill="#fff" stroke="#231f20" stroke-width="1.0"/>
<rect x="1621.6" y="177.26" width="18.6" height="2.8" rx="1.4" fill="#fff" stroke="#231f20" stroke-width="1.0"/>
<rect x="1590.1" y="182.24" width="18.6" height="2.8" rx="1.4" fill="#fff" stroke="#231f20" stroke-width="1.0"/>
<rect x="1611.1" y="182.24" width="18.6" height="2.8" rx="1.4" fill="#fff" stroke="#231f20" stroke-width="1.0"/>
<rect x="1632.1" y="182.24" width="18.6" height="2.8" rx="1.4" fill="#fff" stroke="#231f20" stroke-width="1.0"/>
<line x1="1488" y1="206.1" x2="1756" y2="206.1" stroke="#231f20" stroke-width="2.2" />
<path d="M1490.75,204 L1490.75,225.45 L1507.7,225.45" stroke="#231f20" stroke-width="5.5" fill="none" stroke-linejoin="round" stroke-linecap="round"/>
<path d="M1753.25,204 L1753.25,225.45 L1735.5,225.45" stroke="#231f20" stroke-width="5.5" fill="none" stroke-linejoin="round" stroke-linecap="round"/>
<line x1="1502.2" y1="226.5" x2="1741" y2="226.5" stroke="#231f20" stroke-width="2.2" />
<path d="M1504.95,222.7 L1504.95,271.45 L1624.2,271.45" stroke="#231f20" stroke-width="5.5" fill="none" stroke-linejoin="round"/>
<line x1="1624.2" y1="271.05" x2="1735.5" y2="271.05" stroke="#231f20" stroke-width="3.0250000000000004" />
<path d="M1738.25,222.7 L1738.25,271.45" stroke="#231f20" stroke-width="5.5" fill="none" stroke-linejoin="round"/>
<line x1="1507.7" y1="261.9" x2="1735.5" y2="261.9" stroke="#231f20" stroke-width="2.2" />
<path d="M1621.45,268.7 L1621.45,391.25 L1733.55,386.95 L1733.55,268.7" stroke="#231f20" stroke-width="5.5" fill="none" stroke-linejoin="round"/>
<line x1="1624.2" y1="380.3" x2="1730.8" y2="380.3" stroke="#231f20" stroke-width="2.2" />
<line x1="1603.8" y1="282.7" x2="1603.8" y2="381.6" stroke="#231f20" stroke-width="2.4" />
<line x1="1610.3" y1="279.6" x2="1610.3" y2="386.3" stroke="#231f20" stroke-width="2.3" />
<line x1="1613.3" y1="278" x2="1613.3" y2="389" stroke="#231f20" stroke-width="1.0" />
<line x1="1615.6" y1="276.7" x2="1615.6" y2="391.7" stroke="#231f20" stroke-width="2.0" />
<line x1="1617.4" y1="276" x2="1617.4" y2="392" stroke="#231f20" stroke-width="0.9" />
<line x1="1603.8" y1="292.3" x2="1618.5" y2="292.3" stroke="#231f20" stroke-width="1.8" />
<line x1="1603.8" y1="296.5" x2="1618.5" y2="296.5" stroke="#231f20" stroke-width="1.8" />
<line x1="1603.8" y1="332.2" x2="1618.5" y2="332.2" stroke="#231f20" stroke-width="1.8" />
<line x1="1603.8" y1="369.7" x2="1618.5" y2="369.7" stroke="#231f20" stroke-width="1.8" />
<line x1="1603.8" y1="373.2" x2="1618.5" y2="373.2" stroke="#231f20" stroke-width="1.8" />
<rect x="1581.5" y="315.3" width="21.4" height="36.5" fill="#fff" stroke="#231f20" stroke-width="2.4"/>
<path d="M1450.1,416 L1612,385.6 L1616.2,391.3 L1450.1,422.6 Z" fill="#fff" stroke="#231f20" stroke-width="1.6" stroke-linejoin="miter"/>
<path d="M1548.1,419 L1548.1,498 Q1548.1,514.3 1564,514.3 L1757,514.3" fill="none" stroke="#444" stroke-width="1.1"/>
<path d="M1548.1,411.5 L1543.3,420.2 L1552.9,420.2 Z" fill="#231f20"/>
<path d="M1207,515.4 L1400,515.4 Q1414,515.4 1422,499.4 L1451.5,439" fill="none" stroke="#333" stroke-width="1.1"/>
<path d="M1455.6,431.2 L1446.6,438.6 L1454.6,442.6 Z" fill="#231f20"/>
<text x="1280.7" y="507.6" font-family='"Liberation Sans", sans-serif' font-size="21.5" font-weight="normal" fill="#231f20" text-anchor="middle" textLength="134.5" lengthAdjust="spacingAndGlyphs" >Water drain hole</text>
<text x="1381.8" y="507.6" font-family='"Liberation Sans", sans-serif' font-size="21.5" font-weight="bold" fill="#231f20" text-anchor="middle" textLength="30.3" lengthAdjust="spacingAndGlyphs" >ø25</text>
<text x="1655.5" y="506.9" font-family='"Liberation Sans", sans-serif' font-size="21.5" font-weight="normal" fill="#231f20" text-anchor="middle" textLength="182.5" lengthAdjust="spacingAndGlyphs" >Condensate drain pipe</text>
<path d="M1298,603 L1733,603 L1733,1000.4 L1728.3,1000.4 C1700,1000.6 1688,1000 1679.6,998.5 C1665,995 1660,991 1650,989.5 C1630,986 1610,986 1591.9,986.4 C1565,986.5 1545,989 1523.7,994.6 C1500,997.5 1465,1000 1436,1000 C1410,1000 1395,997 1385.3,992.6 L1292.1,992.6 C1293,960 1294,920 1296,887 C1297,860 1298,830 1300,812 C1303,790 1308,770 1308,748 C1308,725 1305,712 1302,700 C1298,685 1296,665 1296,649 C1296,630 1297,615 1298,603 Z" fill="#cddef2"/>
<path d="M1323.5,579.5 L1756.8,579.5 L1733,603 L1298.7,603 Z" fill="#d1d3d4"/>
<path d="M1733,603 L1756.8,579.5 L1756.8,984.8 L1735,998.5 Z" fill="#d1d3d4"/>
<line x1="1323.5" y1="579.9" x2="1756.8" y2="579.9" stroke="#231f20" stroke-width="1.8" />
<line x1="1756.8" y1="579" x2="1756.8" y2="988.7" stroke="#231f20" stroke-width="1.6" />
<line x1="1733.5" y1="604" x2="1756.8" y2="580" stroke="#231f20" stroke-width="1.9" />
<path d="M1298.7,604 L1733.5,604 L1733.5,1012" stroke="#231f20" stroke-width="5.4" fill="none" stroke-linecap="round" stroke-linejoin="round"/>
<rect x="1388" y="658.5" width="203.5" height="195" fill="#fff"/>
<path d="M1388,658.5 L1413.5,658.5 L1413.5,828.7 L1591.5,828.7 L1591.5,853.5 L1388,853.5 Z" fill="#a7a9ac"/>
<line x1="1413.5" y1="658.5" x2="1413.5" y2="829" stroke="#231f20" stroke-width="1.6" />
<line x1="1413.5" y1="828.7" x2="1591.5" y2="828.7" stroke="#231f20" stroke-width="1.6" />
<line x1="1388" y1="853.5" x2="1413.5" y2="828.7" stroke="#231f20" stroke-width="1.6" />
<rect x="1388.2" y="658.7" width="203.1" height="194.6" rx="2" fill="none" stroke="#231f20" stroke-width="5"/>
<text x="1501" y="738.5" font-family='"Liberation Sans", sans-serif' font-size="24" font-weight="normal" fill="#231f20" text-anchor="middle" textLength="111.5" lengthAdjust="spacingAndGlyphs" >COLD ROOM</text>
<text x="1501.2" y="765" font-family='"Liberation Sans", sans-serif' font-size="23.6" font-weight="normal" fill="#231f20" text-anchor="middle" textLength="127" lengthAdjust="spacingAndGlyphs" >CEILING HOLE</text>
<text x="1489.4" y="886.7" font-family='"Liberation Sans", sans-serif' font-size="22.5" font-weight="normal" fill="#231f20" text-anchor="middle" textLength="79" lengthAdjust="spacingAndGlyphs" >f. 1 = 520</text>
<text x="1489.4" y="912.4" font-family='"Liberation Sans", sans-serif' font-size="22.5" font-weight="normal" fill="#231f20" text-anchor="middle" textLength="79" lengthAdjust="spacingAndGlyphs" >f. 2 = 520</text>
<text x="1489.4" y="937.3" font-family='"Liberation Sans", sans-serif' font-size="22.5" font-weight="normal" fill="#231f20" text-anchor="middle" textLength="79" lengthAdjust="spacingAndGlyphs" >f. 3 = 600</text>
<line x1="1385.7" y1="902" x2="1439.6" y2="902" stroke="#555" stroke-width="1" />
<line x1="1539" y1="902" x2="1593.8" y2="902" stroke="#555" stroke-width="1" />
<text transform="translate(1626.54,754.9) rotate(-90)" x="0" y="0" font-family='"Liberation Sans", sans-serif' font-size="22.5" font-weight="normal" fill="#231f20" text-anchor="middle" textLength="79" lengthAdjust="spacingAndGlyphs" >f. 1 = 440</text>
<text transform="translate(1652.64,754.9) rotate(-90)" x="0" y="0" font-family='"Liberation Sans", sans-serif' font-size="22.5" font-weight="normal" fill="#231f20" text-anchor="middle" textLength="79" lengthAdjust="spacingAndGlyphs" >f. 2 = 740</text>
<text transform="translate(1677.94,754.9) rotate(-90)" x="0" y="0" font-family='"Liberation Sans", sans-serif' font-size="22.5" font-weight="normal" fill="#231f20" text-anchor="middle" textLength="79" lengthAdjust="spacingAndGlyphs" >f. 3 = 740</text>
<line x1="1644.8" y1="655.4" x2="1644.8" y2="705" stroke="#555" stroke-width="1" />
<line x1="1644.8" y1="804.6" x2="1644.8" y2="856.4" stroke="#555" stroke-width="1" />
<text x="180.35" y="1069.4" font-family='"Liberation Sans", sans-serif' font-size="53.5" font-weight="bold" fill="#939598" text-anchor="middle" textLength="213.7" lengthAdjust="spacingAndGlyphs" stroke="#939598" stroke-width="2.4" stroke-linejoin="round">Remote</text>
<text x="410" y="1069.4" font-family='"Liberation Sans", sans-serif' font-size="53.5" font-weight="bold" fill="#939598" text-anchor="middle" textLength="203.4" lengthAdjust="spacingAndGlyphs" stroke="#939598" stroke-width="2.4" stroke-linejoin="round">Control</text>
<text x="615.15" y="1069.4" font-family='"Liberation Sans", sans-serif' font-size="53.5" font-weight="bold" fill="#939598" text-anchor="middle" textLength="161" lengthAdjust="spacingAndGlyphs" stroke="#939598" stroke-width="2.4" stroke-linejoin="round">Panel</text>
<rect x="856.05" y="1006.75" width="112.7" height="74.5" rx="5" fill="none" stroke="#231f20" stroke-width="9.5"/>
<rect x="870.9" y="1026.4" width="52.8" height="23.9" rx="1" fill="none" stroke="#231f20" stroke-width="1.5"/>
<line x1="855.9" y1="942.2" x2="968.9" y2="942.2" stroke="#231f20" stroke-width="1.3" />
<line x1="855.9" y1="933.5" x2="855.9" y2="996.5" stroke="#231f20" stroke-width="1.3" />
<line x1="968.9" y1="933.5" x2="968.9" y2="996.5" stroke="#231f20" stroke-width="1.3" />
<line x1="849.4" y1="948.7" x2="862.4" y2="935.7" stroke="#231f20" stroke-width="2.2" />
<line x1="962.4" y1="948.7" x2="975.4" y2="935.7" stroke="#231f20" stroke-width="2.2" />
<text x="913.3" y="930.7" font-family='"Liberation Sans", sans-serif' font-size="37.6" font-weight="normal" fill="#231f20" text-anchor="middle" textLength="42.6" lengthAdjust="spacingAndGlyphs" >139</text>
<line x1="1034.6" y1="942.2" x2="1126" y2="942.2" stroke="#231f20" stroke-width="1.3" />
<line x1="1034.6" y1="933.5" x2="1034.6" y2="996.5" stroke="#231f20" stroke-width="1.3" />
<line x1="1070.4" y1="933.5" x2="1070.4" y2="997.5" stroke="#231f20" stroke-width="1.3" />
<line x1="1028.1" y1="948.7" x2="1041.1" y2="935.7" stroke="#231f20" stroke-width="2.2" />
<line x1="1063.9" y1="948.7" x2="1076.9" y2="935.7" stroke="#231f20" stroke-width="2.2" />
<text x="1098.8" y="931" font-family='"Liberation Sans", sans-serif' font-size="37.6" font-weight="normal" fill="#231f20" text-anchor="middle" textLength="28.4" lengthAdjust="spacingAndGlyphs" >37</text>
<line x1="781.5" y1="1003" x2="781.5" y2="1086" stroke="#231f20" stroke-width="1.3" />
<line x1="769.8" y1="1007" x2="843.9" y2="1007" stroke="#231f20" stroke-width="1.3" />
<line x1="769.8" y1="1082" x2="846.3" y2="1082" stroke="#231f20" stroke-width="1.3" />
<line x1="775" y1="1013.5" x2="788" y2="1000.5" stroke="#231f20" stroke-width="2.2" />
<line x1="775" y1="1088.5" x2="788" y2="1075.5" stroke="#231f20" stroke-width="2.2" />
<text transform="translate(771.24,1045.3) rotate(-90)" x="0" y="0" font-family='"Liberation Sans", sans-serif' font-size="38.5" font-weight="normal" fill="#231f20" text-anchor="middle" textLength="27.2" lengthAdjust="spacingAndGlyphs" >93</text>
<rect x="1032.9" y="1002.5" width="40.5" height="83.9" rx="5" fill="#111"/>
<path d="M1042.7,1012.2 L1059.4,1012.2 L1055,1016.6 L1042.7,1016.6 Z M1042.7,1021 L1054.1,1021 L1054.1,1066.9 L1042.7,1066.9 Z M1058.4,1020.2 L1063.8,1014.9 L1063.8,1073.1 L1058.4,1067.8 Z M1042.7,1071.3 L1055.4,1071.3 L1059.9,1076.6 L1042.7,1076.6 Z" fill="#fff"/>
<g fill="#939598">
<rect x="2074" y="289.4" width="33.5" height="4.6"/>
<rect x="2130.2" y="256.2" width="5.9" height="62.3"/>
<rect x="2150.9" y="256.2" width="5.8" height="62.3"/>
<path d="M2158,291.5 L2166.8,291.5 L2190.2,318.5 L2181.4,318.5 Z"/>
<rect x="2066.2" y="360.8" width="5.8" height="62.6"/>
<rect x="2066.2" y="360.8" width="31.4" height="5.8"/>
<rect x="2066.2" y="386.2" width="31.4" height="5.8"/>
<rect x="2108.2" y="360.8" width="5.6" height="62.6"/>
<rect x="2108.2" y="417.4" width="30.8" height="6"/>
</g>
<path d="M2153.8,259.1 L2171.6,259.1 A15.65,15.65 0 0 1 2171.6,290.4 L2153.8,290.4" fill="none" stroke="#939598" stroke-width="5.8"/>
<circle cx="2179.1" cy="392" r="29.9" fill="none" stroke="#939598" stroke-width="5.9"/>
<defs><clipPath id="cA"><rect x="2050" y="240" width="100" height="78.5"/></clipPath><clipPath id="cW"><rect x="2210" y="360.8" width="100" height="80"/></clipPath></defs>
<path d="M2061.4,325 L2090.9,263.3 L2120.4,325" fill="none" stroke="#939598" stroke-width="6.2" stroke-linejoin="miter" stroke-miterlimit="6" clip-path="url(#cA)"/>
<path d="M2222.9,355 L2239.6,415 L2258.6,369 L2278.4,415 L2294.3,355" fill="none" stroke="#939598" stroke-width="6.2" stroke-linejoin="miter" stroke-miterlimit="6" clip-path="url(#cW)"/>
<path d="M2255.9,276.1 L2255.9,279 A9.3,7.8 0 0 0 2265.2,286.8 A11.6,11.1 0 0 0 2276.8,275.7 A14.6,13.1 0 0 0 2262.2,262.6 A18.4,16.9 0 0 0 2243.8,279.5 A23.3,21.4 0 0 0 2267.1,300.9 A28.6,27.2 0 0 0 2295.7,273.7 A36.4,33.5 0 0 0 2259.3,240.2 A44.9,44.2 0 0 0 2214.4,284.4 A64.3,51.4 0 0 0 2278.7,335.8 C2305,335.8 2328,322 2336.5,298" fill="none" stroke="#adc8e8" stroke-width="3.9" stroke-linecap="round"/>
<path d="M2322.4,296.5 L2339.9,285.4 L2350,303.8 Z" fill="#adc8e8"/>
<defs><linearGradient id="gUp" x1="0" y1="453.8" x2="0" y2="520.5" gradientUnits="userSpaceOnUse"><stop offset="0" stop-color="#e5312a"/><stop offset="0.45" stop-color="#f47b20"/><stop offset="1" stop-color="#fdc70f"/></linearGradient><linearGradient id="gL1" x1="2011.5" y1="0" x2="2080" y2="0" gradientUnits="userSpaceOnUse"><stop offset="0" stop-color="#e5312a"/><stop offset="0.5" stop-color="#f47b20"/><stop offset="1" stop-color="#fdc70f"/></linearGradient><linearGradient id="gL2" x1="2278.7" y1="0" x2="2347.2" y2="0" gradientUnits="userSpaceOnUse"><stop offset="0" stop-color="#e5312a"/><stop offset="0.5" stop-color="#f47b20"/><stop offset="1" stop-color="#fdc70f"/></linearGradient><linearGradient id="gCy" x1="2112" y1="0" x2="2150" y2="0" gradientUnits="userSpaceOnUse"><stop offset="0" stop-color="#00aeef" stop-opacity="0"/><stop offset="1" stop-color="#00aeef"/></linearGradient><linearGradient id="gBl" x1="2289" y1="0" x2="2352" y2="0" gradientUnits="userSpaceOnUse"><stop offset="0" stop-color="#6f9fd3" stop-opacity="0"/><stop offset="0.45" stop-color="#5e95cf" stop-opacity="0.8"/><stop offset="1" stop-color="#0a66a8"/></linearGradient></defs>
<path d="M2149.1,453.8 L2167.2,472.1 L2158,472.1 L2158,497 C2158,512 2152,520.5 2141,520.5 L2124.5,520.3 C2124.5,519 2128,518.5 2133,516 C2139,512 2141,505 2141,497 L2141,472.1 L2130.9,472.1 Z" fill="url(#gUp)"/>
<path d="M2011.5,591.7 L2029.6,573.7 L2029.6,582 L2058,582 C2070,582 2076,577 2077.6,567 C2080,575 2080,588 2075,594 C2071,599 2065,600.5 2058,600.5 L2029.6,600.5 L2029.6,610.2 Z" fill="url(#gL1)"/>
<path d="M2011.5,591.7 L2029.6,573.7 L2029.6,582 L2058,582 C2070,582 2076,577 2077.6,567 C2080,575 2080,588 2075,594 C2071,599 2065,600.5 2058,600.5 L2029.6,600.5 L2029.6,610.2 Z" fill="url(#gL1)" transform="translate(267.2,21.2)"/>
<path d="M2084.2,675 L2356.4,675 L2353.5,684.2 L2359.3,688.6 L2356.4,697.9 L2107.4,697.9 L2107.4,898 L2101.9,894.7 L2093,900.6 L2084.2,898 Z" fill="#afcbea"/>
<rect x="2108.4" y="550.4" width="163.55" height="109.03" fill="#f8f9fc"/>
<rect x="2103.21" y="659.43" width="173.93" height="15.71" fill="#f8f9fc"/>
<rect x="2112.42" y="659.43" width="154.98" height="45.56" fill="#f8f9fc"/>
<rect x="2188.03" y="704.34" width="76.32" height="76.58" fill="#f8f9fc"/>
<path d="M2109.89,660.73 L2109.89,551.89 L2270.46,551.89 L2270.46,660.73" stroke="#231f20" stroke-width="2.9854" fill="none" stroke-linejoin="round"/>
<rect x="2106.45" y="656.19" width="4.61" height="5.84" rx="1.62" fill="#231f20"/>
<rect x="2269.29" y="656.19" width="4.61" height="5.84" rx="1.62" fill="#231f20"/>
<rect x="2169.47" y="555.59" width="12.07" height="1.3" rx="0.65" fill="#f8f9fc" stroke="#231f20" stroke-width="0.7"/>
<rect x="2183.1" y="555.59" width="12.07" height="1.3" rx="0.65" fill="#f8f9fc" stroke="#231f20" stroke-width="0.7"/>
<rect x="2196.73" y="555.59" width="12.07" height="1.3" rx="0.65" fill="#f8f9fc" stroke="#231f20" stroke-width="0.7"/>
<rect x="2176.29" y="558.82" width="12.07" height="1.3" rx="0.65" fill="#f8f9fc" stroke="#231f20" stroke-width="0.7"/>
<rect x="2189.91" y="558.82" width="12.07" height="1.3" rx="0.65" fill="#f8f9fc" stroke="#231f20" stroke-width="0.7"/>
<rect x="2169.47" y="562.06" width="12.07" height="1.3" rx="0.65" fill="#f8f9fc" stroke="#231f20" stroke-width="0.7"/>
<rect x="2183.1" y="562.06" width="12.07" height="1.3" rx="0.65" fill="#f8f9fc" stroke="#231f20" stroke-width="0.7"/>
<rect x="2196.73" y="562.06" width="12.07" height="1.3" rx="0.65" fill="#f8f9fc" stroke="#231f20" stroke-width="0.7"/>
<rect x="2176.29" y="565.29" width="12.07" height="1.3" rx="0.65" fill="#f8f9fc" stroke="#231f20" stroke-width="0.7"/>
<rect x="2189.91" y="565.29" width="12.07" height="1.3" rx="0.65" fill="#f8f9fc" stroke="#231f20" stroke-width="0.7"/>
<rect x="2169.47" y="568.52" width="12.07" height="1.3" rx="0.65" fill="#f8f9fc" stroke="#231f20" stroke-width="0.7"/>
<rect x="2183.1" y="568.52" width="12.07" height="1.3" rx="0.65" fill="#f8f9fc" stroke="#231f20" stroke-width="0.7"/>
<rect x="2196.73" y="568.52" width="12.07" height="1.3" rx="0.65" fill="#f8f9fc" stroke="#231f20" stroke-width="0.7"/>
<rect x="2176.29" y="571.75" width="12.07" height="1.3" rx="0.65" fill="#f8f9fc" stroke="#231f20" stroke-width="0.7"/>
<rect x="2189.91" y="571.75" width="12.07" height="1.3" rx="0.65" fill="#f8f9fc" stroke="#231f20" stroke-width="0.7"/>
<rect x="2169.47" y="574.98" width="12.07" height="1.3" rx="0.65" fill="#f8f9fc" stroke="#231f20" stroke-width="0.7"/>
<rect x="2183.1" y="574.98" width="12.07" height="1.3" rx="0.65" fill="#f8f9fc" stroke="#231f20" stroke-width="0.7"/>
<rect x="2196.73" y="574.98" width="12.07" height="1.3" rx="0.65" fill="#f8f9fc" stroke="#231f20" stroke-width="0.7"/>
<rect x="2176.29" y="578.22" width="12.07" height="1.3" rx="0.65" fill="#f8f9fc" stroke="#231f20" stroke-width="0.7"/>
<rect x="2189.91" y="578.22" width="12.07" height="1.3" rx="0.65" fill="#f8f9fc" stroke="#231f20" stroke-width="0.7"/>
<rect x="2169.47" y="581.45" width="12.07" height="1.3" rx="0.65" fill="#f8f9fc" stroke="#231f20" stroke-width="0.7"/>
<rect x="2183.1" y="581.45" width="12.07" height="1.3" rx="0.65" fill="#f8f9fc" stroke="#231f20" stroke-width="0.7"/>
<rect x="2196.73" y="581.45" width="12.07" height="1.3" rx="0.65" fill="#f8f9fc" stroke="#231f20" stroke-width="0.7"/>
<rect x="2176.29" y="584.68" width="12.07" height="1.3" rx="0.65" fill="#f8f9fc" stroke="#231f20" stroke-width="0.7"/>
<rect x="2189.91" y="584.68" width="12.07" height="1.3" rx="0.65" fill="#f8f9fc" stroke="#231f20" stroke-width="0.7"/>
<rect x="2169.47" y="587.91" width="12.07" height="1.3" rx="0.65" fill="#f8f9fc" stroke="#231f20" stroke-width="0.7"/>
<rect x="2183.1" y="587.91" width="12.07" height="1.3" rx="0.65" fill="#f8f9fc" stroke="#231f20" stroke-width="0.7"/>
<rect x="2196.73" y="587.91" width="12.07" height="1.3" rx="0.65" fill="#f8f9fc" stroke="#231f20" stroke-width="0.7"/>
<rect x="2176.29" y="591.14" width="12.07" height="1.3" rx="0.65" fill="#f8f9fc" stroke="#231f20" stroke-width="0.7"/>
<rect x="2189.91" y="591.14" width="12.07" height="1.3" rx="0.65" fill="#f8f9fc" stroke="#231f20" stroke-width="0.7"/>
<rect x="2169.47" y="594.38" width="12.07" height="1.3" rx="0.65" fill="#f8f9fc" stroke="#231f20" stroke-width="0.7"/>
<rect x="2183.1" y="594.38" width="12.07" height="1.3" rx="0.65" fill="#f8f9fc" stroke="#231f20" stroke-width="0.7"/>
<rect x="2196.73" y="594.38" width="12.07" height="1.3" rx="0.65" fill="#f8f9fc" stroke="#231f20" stroke-width="0.7"/>
<rect x="2176.29" y="597.61" width="12.07" height="1.3" rx="0.65" fill="#f8f9fc" stroke="#231f20" stroke-width="0.7"/>
<rect x="2189.91" y="597.61" width="12.07" height="1.3" rx="0.65" fill="#f8f9fc" stroke="#231f20" stroke-width="0.7"/>
<rect x="2169.47" y="600.84" width="12.07" height="1.3" rx="0.65" fill="#f8f9fc" stroke="#231f20" stroke-width="0.7"/>
<rect x="2183.1" y="600.84" width="12.07" height="1.3" rx="0.65" fill="#f8f9fc" stroke="#231f20" stroke-width="0.7"/>
<rect x="2196.73" y="600.84" width="12.07" height="1.3" rx="0.65" fill="#f8f9fc" stroke="#231f20" stroke-width="0.7"/>
<rect x="2176.29" y="604.07" width="12.07" height="1.3" rx="0.65" fill="#f8f9fc" stroke="#231f20" stroke-width="0.7"/>
<rect x="2189.91" y="604.07" width="12.07" height="1.3" rx="0.65" fill="#f8f9fc" stroke="#231f20" stroke-width="0.7"/>
<rect x="2169.47" y="607.3" width="12.07" height="1.3" rx="0.65" fill="#f8f9fc" stroke="#231f20" stroke-width="0.7"/>
<rect x="2183.1" y="607.3" width="12.07" height="1.3" rx="0.65" fill="#f8f9fc" stroke="#231f20" stroke-width="0.7"/>
<rect x="2196.73" y="607.3" width="12.07" height="1.3" rx="0.65" fill="#f8f9fc" stroke="#231f20" stroke-width="0.7"/>
<rect x="2176.29" y="610.54" width="12.07" height="1.3" rx="0.65" fill="#f8f9fc" stroke="#231f20" stroke-width="0.7"/>
<rect x="2189.91" y="610.54" width="12.07" height="1.3" rx="0.65" fill="#f8f9fc" stroke="#231f20" stroke-width="0.7"/>
<rect x="2169.47" y="613.77" width="12.07" height="1.3" rx="0.65" fill="#f8f9fc" stroke="#231f20" stroke-width="0.7"/>
<rect x="2183.1" y="613.77" width="12.07" height="1.3" rx="0.65" fill="#f8f9fc" stroke="#231f20" stroke-width="0.7"/>
<rect x="2196.73" y="613.77" width="12.07" height="1.3" rx="0.65" fill="#f8f9fc" stroke="#231f20" stroke-width="0.7"/>
<rect x="2176.29" y="617" width="12.07" height="1.3" rx="0.65" fill="#f8f9fc" stroke="#231f20" stroke-width="0.7"/>
<rect x="2189.91" y="617" width="12.07" height="1.3" rx="0.65" fill="#f8f9fc" stroke="#231f20" stroke-width="0.7"/>
<rect x="2169.47" y="620.23" width="12.07" height="1.3" rx="0.65" fill="#f8f9fc" stroke="#231f20" stroke-width="0.7"/>
<rect x="2183.1" y="620.23" width="12.07" height="1.3" rx="0.65" fill="#f8f9fc" stroke="#231f20" stroke-width="0.7"/>
<rect x="2196.73" y="620.23" width="12.07" height="1.3" rx="0.65" fill="#f8f9fc" stroke="#231f20" stroke-width="0.7"/>
<rect x="2176.29" y="623.46" width="12.07" height="1.3" rx="0.65" fill="#f8f9fc" stroke="#231f20" stroke-width="0.7"/>
<rect x="2189.91" y="623.46" width="12.07" height="1.3" rx="0.65" fill="#f8f9fc" stroke="#231f20" stroke-width="0.7"/>
<rect x="2169.47" y="626.7" width="12.07" height="1.3" rx="0.65" fill="#f8f9fc" stroke="#231f20" stroke-width="0.7"/>
<rect x="2183.1" y="626.7" width="12.07" height="1.3" rx="0.65" fill="#f8f9fc" stroke="#231f20" stroke-width="0.7"/>
<rect x="2196.73" y="626.7" width="12.07" height="1.3" rx="0.65" fill="#f8f9fc" stroke="#231f20" stroke-width="0.7"/>
<rect x="2176.29" y="629.93" width="12.07" height="1.3" rx="0.65" fill="#f8f9fc" stroke="#231f20" stroke-width="0.7"/>
<rect x="2189.91" y="629.93" width="12.07" height="1.3" rx="0.65" fill="#f8f9fc" stroke="#231f20" stroke-width="0.7"/>
<rect x="2169.47" y="633.16" width="12.07" height="1.3" rx="0.65" fill="#f8f9fc" stroke="#231f20" stroke-width="0.7"/>
<rect x="2183.1" y="633.16" width="12.07" height="1.3" rx="0.65" fill="#f8f9fc" stroke="#231f20" stroke-width="0.7"/>
<rect x="2196.73" y="633.16" width="12.07" height="1.3" rx="0.65" fill="#f8f9fc" stroke="#231f20" stroke-width="0.7"/>
<rect x="2176.29" y="636.39" width="12.07" height="1.3" rx="0.65" fill="#f8f9fc" stroke="#231f20" stroke-width="0.7"/>
<rect x="2189.91" y="636.39" width="12.07" height="1.3" rx="0.65" fill="#f8f9fc" stroke="#231f20" stroke-width="0.7"/>
<rect x="2169.47" y="639.62" width="12.07" height="1.3" rx="0.65" fill="#f8f9fc" stroke="#231f20" stroke-width="0.7"/>
<rect x="2183.1" y="639.62" width="12.07" height="1.3" rx="0.65" fill="#f8f9fc" stroke="#231f20" stroke-width="0.7"/>
<rect x="2196.73" y="639.62" width="12.07" height="1.3" rx="0.65" fill="#f8f9fc" stroke="#231f20" stroke-width="0.7"/>
<rect x="2176.29" y="642.86" width="12.07" height="1.3" rx="0.65" fill="#f8f9fc" stroke="#231f20" stroke-width="0.7"/>
<rect x="2189.91" y="642.86" width="12.07" height="1.3" rx="0.65" fill="#f8f9fc" stroke="#231f20" stroke-width="0.7"/>
<rect x="2169.47" y="646.09" width="12.07" height="1.3" rx="0.65" fill="#f8f9fc" stroke="#231f20" stroke-width="0.7"/>
<rect x="2183.1" y="646.09" width="12.07" height="1.3" rx="0.65" fill="#f8f9fc" stroke="#231f20" stroke-width="0.7"/>
<rect x="2196.73" y="646.09" width="12.07" height="1.3" rx="0.65" fill="#f8f9fc" stroke="#231f20" stroke-width="0.7"/>
<line x1="2103.21" y1="660.79" x2="2277.14" y2="660.79" stroke="#231f20" stroke-width="1.4278000000000002" />
<path d="M2104.7,659.43 L2104.7,673.65 L2115.41,673.65" stroke="#231f20" stroke-width="2.9854" fill="none" stroke-linejoin="round" stroke-linecap="round"/>
<path d="M2275.65,659.43 L2275.65,673.65 L2264.42,673.65" stroke="#231f20" stroke-width="2.9854" fill="none" stroke-linejoin="round" stroke-linecap="round"/>
<line x1="2112.42" y1="674.03" x2="2267.41" y2="674.03" stroke="#231f20" stroke-width="1.4278000000000002" />
<path d="M2113.92,672.15 L2113.92,703.5 L2191.02,703.5" stroke="#231f20" stroke-width="2.9854" fill="none" stroke-linejoin="round"/>
<line x1="2191.02" y1="703.24" x2="2264.42" y2="703.24" stroke="#231f20" stroke-width="1.64197" />
<path d="M2265.91,672.15 L2265.91,703.5" stroke="#231f20" stroke-width="2.9854" fill="none" stroke-linejoin="round"/>
<line x1="2115.41" y1="697.01" x2="2264.42" y2="697.01" stroke="#231f20" stroke-width="1.4278000000000002" />
<path d="M2189.53,702.01 L2189.53,781.25 L2262.86,778.46 L2262.86,702.01" stroke="#231f20" stroke-width="2.9854" fill="none" stroke-linejoin="round"/>
<line x1="2191.02" y1="773.85" x2="2261.37" y2="773.85" stroke="#231f20" stroke-width="1.4278000000000002" />
<line x1="2178.36" y1="710.51" x2="2178.36" y2="774.69" stroke="#231f20" stroke-width="1.5576" />
<line x1="2182.58" y1="708.5" x2="2182.58" y2="777.74" stroke="#231f20" stroke-width="1.4927" />
<line x1="2184.53" y1="707.46" x2="2184.53" y2="779.5" stroke="#231f20" stroke-width="0.649" />
<line x1="2186.02" y1="706.61" x2="2186.02" y2="781.25" stroke="#231f20" stroke-width="1.298" />
<line x1="2187.19" y1="706.16" x2="2187.19" y2="781.44" stroke="#231f20" stroke-width="0.6" />
<line x1="2178.36" y1="716.74" x2="2187.9" y2="716.74" stroke="#231f20" stroke-width="1.1682000000000001" />
<line x1="2178.36" y1="719.46" x2="2187.9" y2="719.46" stroke="#231f20" stroke-width="1.1682000000000001" />
<line x1="2178.36" y1="742.63" x2="2187.9" y2="742.63" stroke="#231f20" stroke-width="1.1682000000000001" />
<line x1="2178.36" y1="766.97" x2="2187.9" y2="766.97" stroke="#231f20" stroke-width="1.1682000000000001" />
<line x1="2178.36" y1="769.24" x2="2187.9" y2="769.24" stroke="#231f20" stroke-width="1.1682000000000001" />
<rect x="2163.89" y="731.67" width="13.89" height="23.69" fill="#f8f9fc" stroke="#231f20" stroke-width="1.56"/>
<path d="M2078.7,797.7 L2185.6,779 L2186,784 L2078.7,802.1 Z" fill="#f8f9fc" stroke="#231f20" stroke-width="1.1"/>
<path d="M2157.4,743.5 L2144.7,731.1 L2144.7,737.6 L2121,738.2 C2117,738.6 2114.5,741 2113.7,745 L2113.7,752 C2114.5,751 2117,750.5 2121,750.5 L2144.7,750 L2144.7,756.3 Z" fill="url(#gCy)"/>
<path d="M2356.3,737.2 L2338.1,719 L2338.1,728.4 L2305.3,728.4 C2298,728.6 2293,732 2292.2,738 L2290.5,757.4 C2291,752 2293.5,749 2300,747.5 C2303,746.6 2306,746.3 2310.5,746.3 L2338.1,746.3 L2338.1,755.8 Z" fill="url(#gBl)"/></svg></body></html>
